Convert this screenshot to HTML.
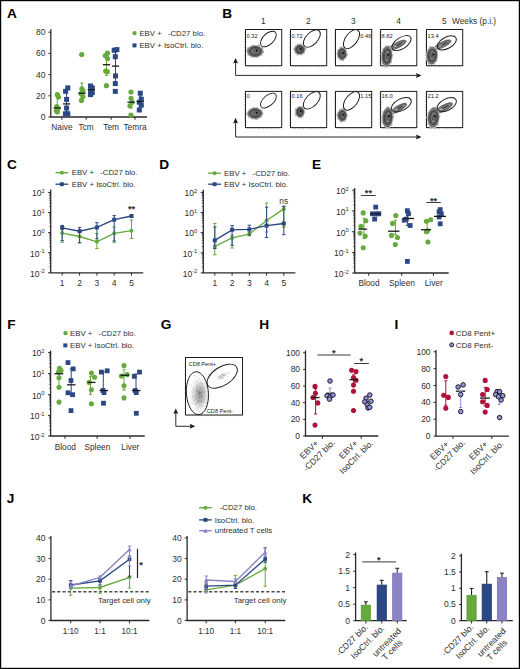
<!DOCTYPE html>
<html><head><meta charset="utf-8"><style>
html,body{margin:0;padding:0;background:#fff;}
svg{display:block;font-family:"Liberation Sans", sans-serif;}
</style></head><body>
<svg width="520" height="669" viewBox="0 0 520 669">
<rect width="520" height="669" fill="#fff"/>
<rect x="0.5" y="0.5" width="519" height="668" fill="none" stroke="#000" stroke-width="1.4"/>
<text transform="translate(7.10 17.60) scale(1.14 1)" font-size="12" font-weight="bold" fill="#000">A</text>
<text transform="translate(222.30 17.80) scale(1.14 1)" font-size="12" font-weight="bold" fill="#000">B</text>
<text transform="translate(7.00 168.70) scale(1.14 1)" font-size="12" font-weight="bold" fill="#000">C</text>
<text transform="translate(159.30 168.90) scale(1.14 1)" font-size="12" font-weight="bold" fill="#000">D</text>
<text transform="translate(312.00 168.80) scale(1.14 1)" font-size="12" font-weight="bold" fill="#000">E</text>
<text transform="translate(7.30 328.60) scale(1.14 1)" font-size="12" font-weight="bold" fill="#000">F</text>
<text transform="translate(160.80 328.60) scale(1.14 1)" font-size="12" font-weight="bold" fill="#000">G</text>
<text transform="translate(259.30 328.60) scale(1.14 1)" font-size="12" font-weight="bold" fill="#000">H</text>
<text transform="translate(394.50 328.60) scale(1.14 1)" font-size="12" font-weight="bold" fill="#000">I</text>
<text transform="translate(6.80 503.00) scale(1.14 1)" font-size="12" font-weight="bold" fill="#000">J</text>
<text transform="translate(302.20 503.00) scale(1.14 1)" font-size="12" font-weight="bold" fill="#000">K</text>
<line x1="50.80" y1="29.20" x2="50.80" y2="117.00" stroke="#2a2a2a" stroke-width="1.3" />
<line x1="48.40" y1="32.20" x2="50.80" y2="32.20" stroke="#2a2a2a" stroke-width="1.0" />
<text x="45.40" y="35.20" font-size="8.5" text-anchor="end" font-weight="normal" fill="#2e2e2e" >80</text>
<line x1="48.40" y1="53.40" x2="50.80" y2="53.40" stroke="#2a2a2a" stroke-width="1.0" />
<text x="45.40" y="56.40" font-size="8.5" text-anchor="end" font-weight="normal" fill="#2e2e2e" >60</text>
<line x1="48.40" y1="74.60" x2="50.80" y2="74.60" stroke="#2a2a2a" stroke-width="1.0" />
<text x="45.40" y="77.60" font-size="8.5" text-anchor="end" font-weight="normal" fill="#2e2e2e" >40</text>
<line x1="48.40" y1="95.80" x2="50.80" y2="95.80" stroke="#2a2a2a" stroke-width="1.0" />
<text x="45.40" y="98.80" font-size="8.5" text-anchor="end" font-weight="normal" fill="#2e2e2e" >20</text>
<line x1="48.40" y1="117.00" x2="50.80" y2="117.00" stroke="#2a2a2a" stroke-width="1.0" />
<text x="45.40" y="120.00" font-size="8.5" text-anchor="end" font-weight="normal" fill="#2e2e2e" >0</text>
<line x1="50.20" y1="117.00" x2="147.00" y2="117.00" stroke="#2a2a2a" stroke-width="1.3" />
<line x1="61.90" y1="117.00" x2="61.90" y2="119.80" stroke="#2a2a2a" stroke-width="1.0" />
<text x="61.90" y="130.40" font-size="8.3" text-anchor="middle" font-weight="normal" fill="#2e2e2e" >Naive</text>
<line x1="86.20" y1="117.00" x2="86.20" y2="119.80" stroke="#2a2a2a" stroke-width="1.0" />
<text x="86.20" y="130.40" font-size="8.3" text-anchor="middle" font-weight="normal" fill="#2e2e2e" >Tcm</text>
<line x1="111.20" y1="117.00" x2="111.20" y2="119.80" stroke="#2a2a2a" stroke-width="1.0" />
<text x="111.20" y="130.40" font-size="8.3" text-anchor="middle" font-weight="normal" fill="#2e2e2e" >Tem</text>
<line x1="135.00" y1="117.00" x2="135.00" y2="119.80" stroke="#2a2a2a" stroke-width="1.0" />
<text x="135.00" y="130.40" font-size="8.3" text-anchor="middle" font-weight="normal" fill="#2e2e2e" >Temra</text>
<line x1="57.30" y1="97.00" x2="57.30" y2="108.00" stroke="#66a93d" stroke-width="1.0" />
<line x1="55.70" y1="97.00" x2="58.90" y2="97.00" stroke="#66a93d" stroke-width="1.0" />
<line x1="55.70" y1="108.00" x2="58.90" y2="108.00" stroke="#66a93d" stroke-width="1.0" />
<line x1="81.90" y1="83.00" x2="81.90" y2="100.00" stroke="#66a93d" stroke-width="1.0" />
<line x1="80.30" y1="83.00" x2="83.50" y2="83.00" stroke="#66a93d" stroke-width="1.0" />
<line x1="80.30" y1="100.00" x2="83.50" y2="100.00" stroke="#66a93d" stroke-width="1.0" />
<line x1="106.50" y1="57.00" x2="106.50" y2="75.30" stroke="#66a93d" stroke-width="1.0" />
<line x1="104.90" y1="57.00" x2="108.10" y2="57.00" stroke="#66a93d" stroke-width="1.0" />
<line x1="104.90" y1="75.30" x2="108.10" y2="75.30" stroke="#66a93d" stroke-width="1.0" />
<line x1="131.00" y1="97.00" x2="131.00" y2="108.00" stroke="#66a93d" stroke-width="1.0" />
<line x1="129.40" y1="97.00" x2="132.60" y2="97.00" stroke="#66a93d" stroke-width="1.0" />
<line x1="129.40" y1="108.00" x2="132.60" y2="108.00" stroke="#66a93d" stroke-width="1.0" />
<line x1="66.60" y1="90.00" x2="66.60" y2="112.00" stroke="#2b4884" stroke-width="1.0" />
<line x1="65.00" y1="90.00" x2="68.20" y2="90.00" stroke="#2b4884" stroke-width="1.0" />
<line x1="65.00" y1="112.00" x2="68.20" y2="112.00" stroke="#2b4884" stroke-width="1.0" />
<line x1="91.30" y1="87.00" x2="91.30" y2="93.00" stroke="#2b4884" stroke-width="1.0" />
<line x1="89.70" y1="87.00" x2="92.90" y2="87.00" stroke="#2b4884" stroke-width="1.0" />
<line x1="89.70" y1="93.00" x2="92.90" y2="93.00" stroke="#2b4884" stroke-width="1.0" />
<line x1="115.50" y1="52.00" x2="115.50" y2="82.00" stroke="#2b4884" stroke-width="1.0" />
<line x1="113.90" y1="52.00" x2="117.10" y2="52.00" stroke="#2b4884" stroke-width="1.0" />
<line x1="113.90" y1="82.00" x2="117.10" y2="82.00" stroke="#2b4884" stroke-width="1.0" />
<line x1="140.30" y1="96.00" x2="140.30" y2="107.00" stroke="#2b4884" stroke-width="1.0" />
<line x1="138.70" y1="96.00" x2="141.90" y2="96.00" stroke="#2b4884" stroke-width="1.0" />
<line x1="138.70" y1="107.00" x2="141.90" y2="107.00" stroke="#2b4884" stroke-width="1.0" />
<circle cx="57.30" cy="94.60" r="2.6" fill="#66a93d" stroke="none" stroke-width="0"/>
<circle cx="58.50" cy="97.00" r="2.6" fill="#66a93d" stroke="none" stroke-width="0"/>
<circle cx="56.80" cy="106.60" r="2.6" fill="#66a93d" stroke="none" stroke-width="0"/>
<circle cx="57.80" cy="108.60" r="2.6" fill="#66a93d" stroke="none" stroke-width="0"/>
<circle cx="56.30" cy="110.50" r="2.6" fill="#66a93d" stroke="none" stroke-width="0"/>
<circle cx="57.30" cy="111.90" r="2.6" fill="#66a93d" stroke="none" stroke-width="0"/>
<circle cx="81.70" cy="54.50" r="2.6" fill="#66a93d" stroke="none" stroke-width="0"/>
<circle cx="81.90" cy="88.80" r="2.6" fill="#66a93d" stroke="none" stroke-width="0"/>
<circle cx="83.00" cy="90.80" r="2.6" fill="#66a93d" stroke="none" stroke-width="0"/>
<circle cx="81.20" cy="93.70" r="2.6" fill="#66a93d" stroke="none" stroke-width="0"/>
<circle cx="82.90" cy="96.50" r="2.6" fill="#66a93d" stroke="none" stroke-width="0"/>
<circle cx="81.50" cy="100.40" r="2.6" fill="#66a93d" stroke="none" stroke-width="0"/>
<circle cx="107.50" cy="53.20" r="2.6" fill="#66a93d" stroke="none" stroke-width="0"/>
<circle cx="105.30" cy="55.50" r="2.6" fill="#66a93d" stroke="none" stroke-width="0"/>
<circle cx="107.50" cy="58.50" r="2.6" fill="#66a93d" stroke="none" stroke-width="0"/>
<circle cx="105.70" cy="71.10" r="2.6" fill="#66a93d" stroke="none" stroke-width="0"/>
<circle cx="107.30" cy="71.70" r="2.6" fill="#66a93d" stroke="none" stroke-width="0"/>
<circle cx="106.40" cy="85.70" r="2.6" fill="#66a93d" stroke="none" stroke-width="0"/>
<circle cx="131.00" cy="92.00" r="2.6" fill="#66a93d" stroke="none" stroke-width="0"/>
<circle cx="131.00" cy="98.30" r="2.6" fill="#66a93d" stroke="none" stroke-width="0"/>
<circle cx="132.00" cy="102.20" r="2.6" fill="#66a93d" stroke="none" stroke-width="0"/>
<circle cx="130.00" cy="105.80" r="2.6" fill="#66a93d" stroke="none" stroke-width="0"/>
<circle cx="131.00" cy="115.10" r="2.6" fill="#66a93d" stroke="none" stroke-width="0"/>
<rect x="65.30" y="85.40" width="5.0" height="5.0" fill="#2b4884"/>
<rect x="63.10" y="88.80" width="5.0" height="5.0" fill="#2b4884"/>
<rect x="64.10" y="96.90" width="5.0" height="5.0" fill="#2b4884"/>
<rect x="64.10" y="105.60" width="5.0" height="5.0" fill="#2b4884"/>
<rect x="62.90" y="111.30" width="5.0" height="5.0" fill="#2b4884"/>
<rect x="65.30" y="111.30" width="5.0" height="5.0" fill="#2b4884"/>
<rect x="88.00" y="83.50" width="5.0" height="5.0" fill="#2b4884"/>
<rect x="89.80" y="85.40" width="5.0" height="5.0" fill="#2b4884"/>
<rect x="88.00" y="88.30" width="5.0" height="5.0" fill="#2b4884"/>
<rect x="89.80" y="90.20" width="5.0" height="5.0" fill="#2b4884"/>
<rect x="88.00" y="92.10" width="5.0" height="5.0" fill="#2b4884"/>
<rect x="111.70" y="47.70" width="5.0" height="5.0" fill="#2b4884"/>
<rect x="114.40" y="47.10" width="5.0" height="5.0" fill="#2b4884"/>
<rect x="112.80" y="54.20" width="5.0" height="5.0" fill="#2b4884"/>
<rect x="113.00" y="73.40" width="5.0" height="5.0" fill="#2b4884"/>
<rect x="112.80" y="81.10" width="5.0" height="5.0" fill="#2b4884"/>
<rect x="112.80" y="88.90" width="5.0" height="5.0" fill="#2b4884"/>
<rect x="137.80" y="90.70" width="5.0" height="5.0" fill="#2b4884"/>
<rect x="138.80" y="96.70" width="5.0" height="5.0" fill="#2b4884"/>
<rect x="136.80" y="99.70" width="5.0" height="5.0" fill="#2b4884"/>
<rect x="138.80" y="102.70" width="5.0" height="5.0" fill="#2b4884"/>
<rect x="136.80" y="107.50" width="5.0" height="5.0" fill="#2b4884"/>
<line x1="53.70" y1="107.90" x2="60.90" y2="107.90" stroke="#1a1a1a" stroke-width="1.3" />
<line x1="78.30" y1="93.20" x2="85.50" y2="93.20" stroke="#1a1a1a" stroke-width="1.3" />
<line x1="102.90" y1="64.70" x2="110.10" y2="64.70" stroke="#1a1a1a" stroke-width="1.3" />
<line x1="127.40" y1="102.20" x2="134.60" y2="102.20" stroke="#1a1a1a" stroke-width="1.3" />
<line x1="63.00" y1="103.90" x2="70.20" y2="103.90" stroke="#1a1a1a" stroke-width="1.3" />
<line x1="87.70" y1="89.60" x2="94.90" y2="89.60" stroke="#1a1a1a" stroke-width="1.3" />
<line x1="111.90" y1="66.10" x2="119.10" y2="66.10" stroke="#1a1a1a" stroke-width="1.3" />
<line x1="136.70" y1="101.60" x2="143.90" y2="101.60" stroke="#1a1a1a" stroke-width="1.3" />
<circle cx="134.50" cy="33.10" r="2.2" fill="#66a93d" stroke="none" stroke-width="0"/>
<rect x="132.50" y="43.40" width="4.0" height="4.0" fill="#2b4884"/>
<text x="139.40" y="35.50" font-size="7.8" text-anchor="start" font-weight="normal" fill="#2e2e2e" >EBV +</text>
<text x="167.90" y="35.50" font-size="7.8" text-anchor="start" font-weight="normal" fill="#2e2e2e" >-CD27 blo.</text>
<text x="139.40" y="47.50" font-size="7.8" text-anchor="start" font-weight="normal" fill="#2e2e2e" >EBV + IsoCtrl. blo.</text>
<text x="263.40" y="23.90" font-size="8.3" text-anchor="middle" font-weight="normal" fill="#2e2e2e" >1</text>
<text x="308.40" y="23.90" font-size="8.3" text-anchor="middle" font-weight="normal" fill="#2e2e2e" >2</text>
<text x="353.40" y="23.90" font-size="8.3" text-anchor="middle" font-weight="normal" fill="#2e2e2e" >3</text>
<text x="398.50" y="23.90" font-size="8.3" text-anchor="middle" font-weight="normal" fill="#2e2e2e" >4</text>
<text x="444.40" y="23.90" font-size="8.3" text-anchor="middle" font-weight="normal" fill="#2e2e2e" >5</text>
<text x="452.00" y="23.90" font-size="8.3" text-anchor="start" font-weight="normal" fill="#2e2e2e" >Weeks (p.i.)</text>
<rect x="245.50" y="29.50" width="36.2" height="36.2" fill="none" stroke="#1e1e1e" stroke-width="1.0"/>
<path d="M244.40 32.09H245.50M248.09 65.70V66.80M244.40 34.67H245.50M250.67 65.70V66.80M244.40 37.26H245.50M253.26 65.70V66.80M244.40 39.84H245.50M255.84 65.70V66.80M244.40 42.43H245.50M258.43 65.70V66.80M244.40 45.01H245.50M261.01 65.70V66.80M244.40 47.60H245.50M263.60 65.70V66.80M244.40 50.19H245.50M266.19 65.70V66.80M244.40 52.77H245.50M268.77 65.70V66.80M244.40 55.36H245.50M271.36 65.70V66.80M244.40 57.94H245.50M273.94 65.70V66.80M244.40 60.53H245.50M276.53 65.70V66.80M244.40 63.11H245.50M279.11 65.70V66.80" stroke="#444" stroke-width="0.6" fill="none"/>
<g transform="translate(255.00 51.30) rotate(0)">
<ellipse cx="0" cy="0" rx="8.50" ry="6.40" fill="#bcbcbc"/>
<circle cx="8.02" cy="0.82" r="1.25" fill="#b4b4b4"/>
<circle cx="6.70" cy="3.37" r="0.96" fill="#b4b4b4"/>
<circle cx="2.47" cy="5.71" r="1.04" fill="#b4b4b4"/>
<circle cx="-3.36" cy="5.46" r="0.98" fill="#b4b4b4"/>
<circle cx="-6.51" cy="3.57" r="1.15" fill="#b4b4b4"/>
<circle cx="-7.99" cy="-0.98" r="1.10" fill="#b4b4b4"/>
<circle cx="-6.94" cy="-3.09" r="1.25" fill="#b4b4b4"/>
<circle cx="-2.14" cy="-5.79" r="0.95" fill="#b4b4b4"/>
<circle cx="3.73" cy="-5.33" r="1.39" fill="#b4b4b4"/>
<circle cx="7.09" cy="-2.90" r="1.34" fill="#b4b4b4"/>
<ellipse cx="0" cy="0" rx="7.20" ry="5.20" fill="#868686" stroke="#3a3a3a" stroke-width="0.6"/>
<ellipse cx="0.2" cy="0" rx="5.62" ry="4.06" fill="#5c5c5c" stroke="#222" stroke-width="0.6"/>
<ellipse cx="0.3" cy="-0.1" rx="4.18" ry="3.02" fill="#8c8c8c" stroke="#333" stroke-width="0.5"/>
<ellipse cx="0.5" cy="-0.2" rx="2.45" ry="1.77" fill="#6a6a6a" stroke="#333" stroke-width="0.5"/>
<circle cx="1.80" cy="-0.78" r="0.95" fill="#0a0a0a"/>
</g>
<ellipse cx="268.40" cy="39.00" rx="9.7" ry="5.4" transform="rotate(-44 268.40 39.00)" fill="none" stroke="#1e1e1e" stroke-width="0.95"/>
<text x="246.50" y="38.10" font-size="5.7" text-anchor="start" font-weight="normal" fill="#222" >0.32</text>
<rect x="290.50" y="29.50" width="36.2" height="36.2" fill="none" stroke="#1e1e1e" stroke-width="1.0"/>
<path d="M289.40 32.09H290.50M293.09 65.70V66.80M289.40 34.67H290.50M295.67 65.70V66.80M289.40 37.26H290.50M298.26 65.70V66.80M289.40 39.84H290.50M300.84 65.70V66.80M289.40 42.43H290.50M303.43 65.70V66.80M289.40 45.01H290.50M306.01 65.70V66.80M289.40 47.60H290.50M308.60 65.70V66.80M289.40 50.19H290.50M311.19 65.70V66.80M289.40 52.77H290.50M313.77 65.70V66.80M289.40 55.36H290.50M316.36 65.70V66.80M289.40 57.94H290.50M318.94 65.70V66.80M289.40 60.53H290.50M321.53 65.70V66.80M289.40 63.11H290.50M324.11 65.70V66.80" stroke="#444" stroke-width="0.6" fill="none"/>
<g transform="translate(299.70 49.60) rotate(0)">
<ellipse cx="0" cy="0" rx="5.90" ry="5.50" fill="#bcbcbc"/>
<circle cx="5.44" cy="-0.74" r="1.31" fill="#b4b4b4"/>
<circle cx="4.08" cy="3.42" r="0.95" fill="#b4b4b4"/>
<circle cx="1.71" cy="4.85" r="1.07" fill="#b4b4b4"/>
<circle cx="-2.01" cy="4.75" r="1.27" fill="#b4b4b4"/>
<circle cx="-3.87" cy="3.63" r="0.82" fill="#b4b4b4"/>
<circle cx="-5.45" cy="-0.68" r="1.06" fill="#b4b4b4"/>
<circle cx="-4.09" cy="-3.41" r="0.80" fill="#b4b4b4"/>
<circle cx="-1.81" cy="-4.81" r="1.23" fill="#b4b4b4"/>
<circle cx="1.12" cy="-4.99" r="1.37" fill="#b4b4b4"/>
<circle cx="4.91" cy="-2.30" r="0.82" fill="#b4b4b4"/>
<ellipse cx="0" cy="0" rx="4.60" ry="4.30" fill="#868686" stroke="#3a3a3a" stroke-width="0.6"/>
<ellipse cx="0.2" cy="0" rx="3.59" ry="3.35" fill="#5c5c5c" stroke="#222" stroke-width="0.6"/>
<ellipse cx="0.3" cy="-0.1" rx="2.67" ry="2.49" fill="#8c8c8c" stroke="#333" stroke-width="0.5"/>
<ellipse cx="0.5" cy="-0.2" rx="1.56" ry="1.46" fill="#6a6a6a" stroke="#333" stroke-width="0.5"/>
<circle cx="1.15" cy="-0.64" r="0.95" fill="#0a0a0a"/>
</g>
<ellipse cx="311.85" cy="38.55" rx="10.6" ry="5.9" transform="rotate(-46.6 311.85 38.55)" fill="none" stroke="#1e1e1e" stroke-width="0.95"/>
<text x="291.50" y="38.10" font-size="5.7" text-anchor="start" font-weight="normal" fill="#222" >0.72</text>
<rect x="335.50" y="29.50" width="36.2" height="36.2" fill="none" stroke="#1e1e1e" stroke-width="1.0"/>
<path d="M334.40 32.09H335.50M338.09 65.70V66.80M334.40 34.67H335.50M340.67 65.70V66.80M334.40 37.26H335.50M343.26 65.70V66.80M334.40 39.84H335.50M345.84 65.70V66.80M334.40 42.43H335.50M348.43 65.70V66.80M334.40 45.01H335.50M351.01 65.70V66.80M334.40 47.60H335.50M353.60 65.70V66.80M334.40 50.19H335.50M356.19 65.70V66.80M334.40 52.77H335.50M358.77 65.70V66.80M334.40 55.36H335.50M361.36 65.70V66.80M334.40 57.94H335.50M363.94 65.70V66.80M334.40 60.53H335.50M366.53 65.70V66.80M334.40 63.11H335.50M369.11 65.70V66.80" stroke="#444" stroke-width="0.6" fill="none"/>
<g transform="translate(342.00 53.80) rotate(0)">
<ellipse cx="0" cy="0" rx="5.20" ry="6.80" fill="#bcbcbc"/>
<circle cx="4.72" cy="1.16" r="1.37" fill="#b4b4b4"/>
<circle cx="4.32" cy="2.79" r="0.85" fill="#b4b4b4"/>
<circle cx="0.86" cy="6.30" r="1.24" fill="#b4b4b4"/>
<circle cx="-1.79" cy="5.94" r="0.98" fill="#b4b4b4"/>
<circle cx="-4.00" cy="3.54" r="1.16" fill="#b4b4b4"/>
<circle cx="-4.80" cy="-0.21" r="0.90" fill="#b4b4b4"/>
<circle cx="-3.96" cy="-3.62" r="1.04" fill="#b4b4b4"/>
<circle cx="-1.07" cy="-6.24" r="1.40" fill="#b4b4b4"/>
<circle cx="2.28" cy="-5.64" r="1.13" fill="#b4b4b4"/>
<circle cx="3.82" cy="-3.88" r="0.96" fill="#b4b4b4"/>
<ellipse cx="0" cy="0" rx="3.90" ry="5.60" fill="#868686" stroke="#3a3a3a" stroke-width="0.6"/>
<ellipse cx="0.2" cy="0" rx="3.04" ry="4.37" fill="#5c5c5c" stroke="#222" stroke-width="0.6"/>
<ellipse cx="0.3" cy="-0.1" rx="2.26" ry="3.25" fill="#8c8c8c" stroke="#333" stroke-width="0.5"/>
<ellipse cx="0.5" cy="-0.2" rx="1.33" ry="1.90" fill="#6a6a6a" stroke="#333" stroke-width="0.5"/>
<circle cx="0.97" cy="-0.84" r="0.95" fill="#0a0a0a"/>
</g>
<ellipse cx="351.50" cy="39.10" rx="11.0" ry="5.9" transform="rotate(-53.5 351.50 39.10)" fill="none" stroke="#1e1e1e" stroke-width="0.95"/>
<text x="371.40" y="38.10" font-size="5.7" text-anchor="end" font-weight="normal" fill="#222" >0.46</text>
<rect x="380.60" y="29.50" width="36.2" height="36.2" fill="none" stroke="#1e1e1e" stroke-width="1.0"/>
<path d="M379.50 32.09H380.60M383.19 65.70V66.80M379.50 34.67H380.60M385.77 65.70V66.80M379.50 37.26H380.60M388.36 65.70V66.80M379.50 39.84H380.60M390.94 65.70V66.80M379.50 42.43H380.60M393.53 65.70V66.80M379.50 45.01H380.60M396.11 65.70V66.80M379.50 47.60H380.60M398.70 65.70V66.80M379.50 50.19H380.60M401.29 65.70V66.80M379.50 52.77H380.60M403.87 65.70V66.80M379.50 55.36H380.60M406.46 65.70V66.80M379.50 57.94H380.60M409.04 65.70V66.80M379.50 60.53H380.60M411.63 65.70V66.80M379.50 63.11H380.60M414.21 65.70V66.80" stroke="#444" stroke-width="0.6" fill="none"/>
<g transform="translate(397.80 45.00) rotate(-27)">
<ellipse cx="0" cy="0" rx="10.00" ry="3.50" fill="#cfcfcf"/>
<ellipse cx="0" cy="0" rx="9.00" ry="2.60" fill="#9a9a9a" stroke="#333" stroke-width="0.55"/>
<ellipse cx="1.35" cy="0" rx="6.12" ry="1.61" fill="#bdbdbd" stroke="#222" stroke-width="0.55"/>
<ellipse cx="1.80" cy="0" rx="3.78" ry="0.78" fill="#3a3a3a"/>
</g>
<g transform="translate(386.80 56.20) rotate(4)">
<ellipse cx="0" cy="0" rx="5.90" ry="10.80" fill="#bcbcbc"/>
<circle cx="5.47" cy="-1.09" r="1.13" fill="#b4b4b4"/>
<circle cx="4.61" cy="5.67" r="1.16" fill="#b4b4b4"/>
<circle cx="1.43" cy="10.04" r="0.84" fill="#b4b4b4"/>
<circle cx="-0.66" cy="10.33" r="1.30" fill="#b4b4b4"/>
<circle cx="-4.12" cy="6.89" r="0.94" fill="#b4b4b4"/>
<circle cx="-5.39" cy="-2.05" r="1.08" fill="#b4b4b4"/>
<circle cx="-3.98" cy="-7.19" r="1.09" fill="#b4b4b4"/>
<circle cx="-1.41" cy="-10.05" r="0.89" fill="#b4b4b4"/>
<circle cx="1.98" cy="-9.70" r="1.32" fill="#b4b4b4"/>
<circle cx="4.48" cy="-6.03" r="1.24" fill="#b4b4b4"/>
<ellipse cx="0" cy="0" rx="4.60" ry="9.60" fill="#868686" stroke="#3a3a3a" stroke-width="0.6"/>
<ellipse cx="0.2" cy="0" rx="3.59" ry="7.49" fill="#5c5c5c" stroke="#222" stroke-width="0.6"/>
<ellipse cx="0.3" cy="-0.1" rx="2.67" ry="5.57" fill="#8c8c8c" stroke="#333" stroke-width="0.5"/>
<ellipse cx="0.5" cy="-0.2" rx="1.56" ry="3.26" fill="#6a6a6a" stroke="#333" stroke-width="0.5"/>
<circle cx="1.15" cy="-1.44" r="0.95" fill="#0a0a0a"/>
</g>
<ellipse cx="401.50" cy="43.10" rx="10.8" ry="5.6" transform="rotate(-33 401.50 43.10)" fill="none" stroke="#1e1e1e" stroke-width="0.95"/>
<text x="381.60" y="38.10" font-size="5.7" text-anchor="start" font-weight="normal" fill="#222" >8.82</text>
<rect x="426.50" y="29.50" width="36.2" height="36.2" fill="none" stroke="#1e1e1e" stroke-width="1.0"/>
<path d="M425.40 32.09H426.50M429.09 65.70V66.80M425.40 34.67H426.50M431.67 65.70V66.80M425.40 37.26H426.50M434.26 65.70V66.80M425.40 39.84H426.50M436.84 65.70V66.80M425.40 42.43H426.50M439.43 65.70V66.80M425.40 45.01H426.50M442.01 65.70V66.80M425.40 47.60H426.50M444.60 65.70V66.80M425.40 50.19H426.50M447.19 65.70V66.80M425.40 52.77H426.50M449.77 65.70V66.80M425.40 55.36H426.50M452.36 65.70V66.80M425.40 57.94H426.50M454.94 65.70V66.80M425.40 60.53H426.50M457.53 65.70V66.80M425.40 63.11H426.50M460.11 65.70V66.80" stroke="#444" stroke-width="0.6" fill="none"/>
<g transform="translate(442.60 44.60) rotate(-26)">
<ellipse cx="0" cy="0" rx="10.00" ry="3.40" fill="#cfcfcf"/>
<ellipse cx="0" cy="0" rx="9.00" ry="2.50" fill="#9a9a9a" stroke="#333" stroke-width="0.55"/>
<ellipse cx="1.35" cy="0" rx="6.12" ry="1.55" fill="#bdbdbd" stroke="#222" stroke-width="0.55"/>
<ellipse cx="1.80" cy="0" rx="3.78" ry="0.75" fill="#3a3a3a"/>
</g>
<g transform="translate(432.00 55.60) rotate(4)">
<ellipse cx="0" cy="0" rx="6.10" ry="9.40" fill="#bcbcbc"/>
<circle cx="5.67" cy="-0.95" r="0.86" fill="#b4b4b4"/>
<circle cx="4.75" cy="4.98" r="0.89" fill="#b4b4b4"/>
<circle cx="2.67" cy="7.95" r="1.04" fill="#b4b4b4"/>
<circle cx="-2.64" cy="7.98" r="1.28" fill="#b4b4b4"/>
<circle cx="-4.94" cy="4.49" r="0.93" fill="#b4b4b4"/>
<circle cx="-5.70" cy="-0.13" r="0.97" fill="#b4b4b4"/>
<circle cx="-5.01" cy="-4.29" r="0.86" fill="#b4b4b4"/>
<circle cx="-2.37" cy="-8.19" r="1.36" fill="#b4b4b4"/>
<circle cx="2.46" cy="-8.12" r="1.28" fill="#b4b4b4"/>
<circle cx="4.98" cy="-4.38" r="0.92" fill="#b4b4b4"/>
<ellipse cx="0" cy="0" rx="4.80" ry="8.20" fill="#868686" stroke="#3a3a3a" stroke-width="0.6"/>
<ellipse cx="0.2" cy="0" rx="3.74" ry="6.40" fill="#5c5c5c" stroke="#222" stroke-width="0.6"/>
<ellipse cx="0.3" cy="-0.1" rx="2.78" ry="4.76" fill="#8c8c8c" stroke="#333" stroke-width="0.5"/>
<ellipse cx="0.5" cy="-0.2" rx="1.63" ry="2.79" fill="#6a6a6a" stroke="#333" stroke-width="0.5"/>
<circle cx="1.20" cy="-1.23" r="0.95" fill="#0a0a0a"/>
</g>
<ellipse cx="446.80" cy="42.90" rx="10.5" ry="5.6" transform="rotate(-29.5 446.80 42.90)" fill="none" stroke="#1e1e1e" stroke-width="0.95"/>
<text x="427.50" y="38.10" font-size="5.7" text-anchor="start" font-weight="normal" fill="#222" >13.4</text>
<rect x="245.50" y="91.40" width="36.2" height="36.2" fill="none" stroke="#1e1e1e" stroke-width="1.0"/>
<path d="M244.40 93.99H245.50M248.09 127.60V128.70M244.40 96.57H245.50M250.67 127.60V128.70M244.40 99.16H245.50M253.26 127.60V128.70M244.40 101.74H245.50M255.84 127.60V128.70M244.40 104.33H245.50M258.43 127.60V128.70M244.40 106.91H245.50M261.01 127.60V128.70M244.40 109.50H245.50M263.60 127.60V128.70M244.40 112.09H245.50M266.19 127.60V128.70M244.40 114.67H245.50M268.77 127.60V128.70M244.40 117.26H245.50M271.36 127.60V128.70M244.40 119.84H245.50M273.94 127.60V128.70M244.40 122.43H245.50M276.53 127.60V128.70M244.40 125.01H245.50M279.11 127.60V128.70" stroke="#444" stroke-width="0.6" fill="none"/>
<g transform="translate(255.00 113.40) rotate(0)">
<ellipse cx="0" cy="0" rx="8.10" ry="6.00" fill="#bcbcbc"/>
<circle cx="7.70" cy="0.16" r="1.06" fill="#b4b4b4"/>
<circle cx="6.09" cy="3.43" r="0.92" fill="#b4b4b4"/>
<circle cx="1.45" cy="5.50" r="1.29" fill="#b4b4b4"/>
<circle cx="-2.82" cy="5.21" r="0.90" fill="#b4b4b4"/>
<circle cx="-6.27" cy="3.25" r="1.00" fill="#b4b4b4"/>
<circle cx="-7.66" cy="0.56" r="1.37" fill="#b4b4b4"/>
<circle cx="-5.21" cy="-4.12" r="0.83" fill="#b4b4b4"/>
<circle cx="-1.30" cy="-5.52" r="1.16" fill="#b4b4b4"/>
<circle cx="2.03" cy="-5.40" r="0.97" fill="#b4b4b4"/>
<circle cx="6.53" cy="-2.97" r="1.07" fill="#b4b4b4"/>
<ellipse cx="0" cy="0" rx="6.80" ry="4.80" fill="#868686" stroke="#3a3a3a" stroke-width="0.6"/>
<ellipse cx="0.2" cy="0" rx="5.30" ry="3.74" fill="#5c5c5c" stroke="#222" stroke-width="0.6"/>
<ellipse cx="0.3" cy="-0.1" rx="3.94" ry="2.78" fill="#8c8c8c" stroke="#333" stroke-width="0.5"/>
<ellipse cx="0.5" cy="-0.2" rx="2.31" ry="1.63" fill="#6a6a6a" stroke="#333" stroke-width="0.5"/>
<circle cx="1.70" cy="-0.72" r="0.95" fill="#0a0a0a"/>
</g>
<ellipse cx="268.40" cy="100.60" rx="9.6" ry="5.15" transform="rotate(-41.7 268.40 100.60)" fill="none" stroke="#1e1e1e" stroke-width="0.95"/>
<text x="246.50" y="98.00" font-size="5.7" text-anchor="start" font-weight="normal" fill="#222" >0</text>
<rect x="290.50" y="91.40" width="36.2" height="36.2" fill="none" stroke="#1e1e1e" stroke-width="1.0"/>
<path d="M289.40 93.99H290.50M293.09 127.60V128.70M289.40 96.57H290.50M295.67 127.60V128.70M289.40 99.16H290.50M298.26 127.60V128.70M289.40 101.74H290.50M300.84 127.60V128.70M289.40 104.33H290.50M303.43 127.60V128.70M289.40 106.91H290.50M306.01 127.60V128.70M289.40 109.50H290.50M308.60 127.60V128.70M289.40 112.09H290.50M311.19 127.60V128.70M289.40 114.67H290.50M313.77 127.60V128.70M289.40 117.26H290.50M316.36 127.60V128.70M289.40 119.84H290.50M318.94 127.60V128.70M289.40 122.43H290.50M321.53 127.60V128.70M289.40 125.01H290.50M324.11 127.60V128.70" stroke="#444" stroke-width="0.6" fill="none"/>
<g transform="translate(299.90 112.00) rotate(0)">
<ellipse cx="0" cy="0" rx="4.90" ry="5.80" fill="#bcbcbc"/>
<circle cx="4.50" cy="-0.10" r="1.14" fill="#b4b4b4"/>
<circle cx="3.14" cy="3.87" r="1.08" fill="#b4b4b4"/>
<circle cx="1.38" cy="5.14" r="1.15" fill="#b4b4b4"/>
<circle cx="-0.84" cy="5.30" r="1.11" fill="#b4b4b4"/>
<circle cx="-3.77" cy="2.94" r="1.28" fill="#b4b4b4"/>
<circle cx="-4.44" cy="0.87" r="0.98" fill="#b4b4b4"/>
<circle cx="-4.02" cy="-2.42" r="1.29" fill="#b4b4b4"/>
<circle cx="-1.06" cy="-5.25" r="0.83" fill="#b4b4b4"/>
<circle cx="2.19" cy="-4.72" r="1.38" fill="#b4b4b4"/>
<circle cx="3.80" cy="-2.90" r="1.17" fill="#b4b4b4"/>
<ellipse cx="0" cy="0" rx="3.60" ry="4.60" fill="#868686" stroke="#3a3a3a" stroke-width="0.6"/>
<ellipse cx="0.2" cy="0" rx="2.81" ry="3.59" fill="#5c5c5c" stroke="#222" stroke-width="0.6"/>
<ellipse cx="0.3" cy="-0.1" rx="2.09" ry="2.67" fill="#8c8c8c" stroke="#333" stroke-width="0.5"/>
<ellipse cx="0.5" cy="-0.2" rx="1.22" ry="1.56" fill="#6a6a6a" stroke="#333" stroke-width="0.5"/>
<circle cx="0.90" cy="-0.69" r="0.95" fill="#0a0a0a"/>
</g>
<ellipse cx="311.80" cy="100.35" rx="10.6" ry="5.9" transform="rotate(-46.6 311.80 100.35)" fill="none" stroke="#1e1e1e" stroke-width="0.95"/>
<text x="291.50" y="98.00" font-size="5.7" text-anchor="start" font-weight="normal" fill="#222" >0.16</text>
<rect x="335.50" y="91.40" width="36.2" height="36.2" fill="none" stroke="#1e1e1e" stroke-width="1.0"/>
<path d="M334.40 93.99H335.50M338.09 127.60V128.70M334.40 96.57H335.50M340.67 127.60V128.70M334.40 99.16H335.50M343.26 127.60V128.70M334.40 101.74H335.50M345.84 127.60V128.70M334.40 104.33H335.50M348.43 127.60V128.70M334.40 106.91H335.50M351.01 127.60V128.70M334.40 109.50H335.50M353.60 127.60V128.70M334.40 112.09H335.50M356.19 127.60V128.70M334.40 114.67H335.50M358.77 127.60V128.70M334.40 117.26H335.50M361.36 127.60V128.70M334.40 119.84H335.50M363.94 127.60V128.70M334.40 122.43H335.50M366.53 127.60V128.70M334.40 125.01H335.50M369.11 127.60V128.70" stroke="#444" stroke-width="0.6" fill="none"/>
<g transform="translate(342.20 115.40) rotate(0)">
<ellipse cx="0" cy="0" rx="5.20" ry="6.50" fill="#bcbcbc"/>
<circle cx="4.80" cy="-0.06" r="1.19" fill="#b4b4b4"/>
<circle cx="3.69" cy="3.91" r="0.89" fill="#b4b4b4"/>
<circle cx="2.34" cy="5.32" r="1.02" fill="#b4b4b4"/>
<circle cx="-1.07" cy="5.95" r="1.29" fill="#b4b4b4"/>
<circle cx="-4.09" cy="3.20" r="1.16" fill="#b4b4b4"/>
<circle cx="-4.80" cy="-0.14" r="1.20" fill="#b4b4b4"/>
<circle cx="-4.24" cy="-2.85" r="1.06" fill="#b4b4b4"/>
<circle cx="-2.08" cy="-5.49" r="1.34" fill="#b4b4b4"/>
<circle cx="0.66" cy="-6.04" r="1.29" fill="#b4b4b4"/>
<circle cx="3.35" cy="-4.37" r="1.21" fill="#b4b4b4"/>
<ellipse cx="0" cy="0" rx="3.90" ry="5.30" fill="#868686" stroke="#3a3a3a" stroke-width="0.6"/>
<ellipse cx="0.2" cy="0" rx="3.04" ry="4.13" fill="#5c5c5c" stroke="#222" stroke-width="0.6"/>
<ellipse cx="0.3" cy="-0.1" rx="2.26" ry="3.07" fill="#8c8c8c" stroke="#333" stroke-width="0.5"/>
<ellipse cx="0.5" cy="-0.2" rx="1.33" ry="1.80" fill="#6a6a6a" stroke="#333" stroke-width="0.5"/>
<circle cx="0.97" cy="-0.79" r="0.95" fill="#0a0a0a"/>
</g>
<ellipse cx="351.50" cy="100.90" rx="10.8" ry="5.9" transform="rotate(-52 351.50 100.90)" fill="none" stroke="#1e1e1e" stroke-width="0.95"/>
<text x="371.40" y="98.00" font-size="5.7" text-anchor="end" font-weight="normal" fill="#222" >1.15</text>
<rect x="380.60" y="91.40" width="36.2" height="36.2" fill="none" stroke="#1e1e1e" stroke-width="1.0"/>
<path d="M379.50 93.99H380.60M383.19 127.60V128.70M379.50 96.57H380.60M385.77 127.60V128.70M379.50 99.16H380.60M388.36 127.60V128.70M379.50 101.74H380.60M390.94 127.60V128.70M379.50 104.33H380.60M393.53 127.60V128.70M379.50 106.91H380.60M396.11 127.60V128.70M379.50 109.50H380.60M398.70 127.60V128.70M379.50 112.09H380.60M401.29 127.60V128.70M379.50 114.67H380.60M403.87 127.60V128.70M379.50 117.26H380.60M406.46 127.60V128.70M379.50 119.84H380.60M409.04 127.60V128.70M379.50 122.43H380.60M411.63 127.60V128.70M379.50 125.01H380.60M414.21 127.60V128.70" stroke="#444" stroke-width="0.6" fill="none"/>
<g transform="translate(398.60 108.40) rotate(-30)">
<ellipse cx="0" cy="0" rx="10.00" ry="3.50" fill="#cfcfcf"/>
<ellipse cx="0" cy="0" rx="9.00" ry="2.60" fill="#9a9a9a" stroke="#333" stroke-width="0.55"/>
<ellipse cx="1.35" cy="0" rx="6.12" ry="1.61" fill="#bdbdbd" stroke="#222" stroke-width="0.55"/>
<ellipse cx="1.80" cy="0" rx="3.78" ry="0.78" fill="#3a3a3a"/>
</g>
<g transform="translate(387.60 117.60) rotate(4)">
<ellipse cx="0" cy="0" rx="5.90" ry="10.60" fill="#bcbcbc"/>
<circle cx="5.47" cy="-0.98" r="1.21" fill="#b4b4b4"/>
<circle cx="4.20" cy="6.59" r="1.31" fill="#b4b4b4"/>
<circle cx="2.34" cy="9.23" r="0.94" fill="#b4b4b4"/>
<circle cx="-0.95" cy="10.05" r="0.94" fill="#b4b4b4"/>
<circle cx="-4.73" cy="5.20" r="0.88" fill="#b4b4b4"/>
<circle cx="-5.50" cy="-0.13" r="0.93" fill="#b4b4b4"/>
<circle cx="-4.70" cy="-5.30" r="1.06" fill="#b4b4b4"/>
<circle cx="-0.98" cy="-10.04" r="1.17" fill="#b4b4b4"/>
<circle cx="0.66" cy="-10.13" r="0.97" fill="#b4b4b4"/>
<circle cx="3.95" cy="-7.10" r="1.32" fill="#b4b4b4"/>
<ellipse cx="0" cy="0" rx="4.60" ry="9.40" fill="#868686" stroke="#3a3a3a" stroke-width="0.6"/>
<ellipse cx="0.2" cy="0" rx="3.59" ry="7.33" fill="#5c5c5c" stroke="#222" stroke-width="0.6"/>
<ellipse cx="0.3" cy="-0.1" rx="2.67" ry="5.45" fill="#8c8c8c" stroke="#333" stroke-width="0.5"/>
<ellipse cx="0.5" cy="-0.2" rx="1.56" ry="3.20" fill="#6a6a6a" stroke="#333" stroke-width="0.5"/>
<circle cx="1.15" cy="-1.41" r="0.95" fill="#0a0a0a"/>
</g>
<ellipse cx="401.30" cy="104.80" rx="10.85" ry="5.8" transform="rotate(-28 401.30 104.80)" fill="none" stroke="#1e1e1e" stroke-width="0.95"/>
<text x="381.60" y="98.00" font-size="5.7" text-anchor="start" font-weight="normal" fill="#222" >16.0</text>
<rect x="426.50" y="91.40" width="36.2" height="36.2" fill="none" stroke="#1e1e1e" stroke-width="1.0"/>
<path d="M425.40 93.99H426.50M429.09 127.60V128.70M425.40 96.57H426.50M431.67 127.60V128.70M425.40 99.16H426.50M434.26 127.60V128.70M425.40 101.74H426.50M436.84 127.60V128.70M425.40 104.33H426.50M439.43 127.60V128.70M425.40 106.91H426.50M442.01 127.60V128.70M425.40 109.50H426.50M444.60 127.60V128.70M425.40 112.09H426.50M447.19 127.60V128.70M425.40 114.67H426.50M449.77 127.60V128.70M425.40 117.26H426.50M452.36 127.60V128.70M425.40 119.84H426.50M454.94 127.60V128.70M425.40 122.43H426.50M457.53 127.60V128.70M425.40 125.01H426.50M460.11 127.60V128.70" stroke="#444" stroke-width="0.6" fill="none"/>
<g transform="translate(443.80 108.00) rotate(-28)">
<ellipse cx="0" cy="0" rx="10.60" ry="3.70" fill="#cfcfcf"/>
<ellipse cx="0" cy="0" rx="9.60" ry="2.80" fill="#9a9a9a" stroke="#333" stroke-width="0.55"/>
<ellipse cx="1.44" cy="0" rx="6.53" ry="1.74" fill="#bdbdbd" stroke="#222" stroke-width="0.55"/>
<ellipse cx="1.92" cy="0" rx="4.03" ry="0.84" fill="#3a3a3a"/>
</g>
<g transform="translate(433.40 117.60) rotate(4)">
<ellipse cx="0" cy="0" rx="6.30" ry="10.60" fill="#bcbcbc"/>
<circle cx="5.83" cy="-1.60" r="1.22" fill="#b4b4b4"/>
<circle cx="4.55" cy="6.49" r="1.36" fill="#b4b4b4"/>
<circle cx="2.33" cy="9.37" r="0.95" fill="#b4b4b4"/>
<circle cx="-2.34" cy="9.36" r="1.20" fill="#b4b4b4"/>
<circle cx="-4.49" cy="6.63" r="1.21" fill="#b4b4b4"/>
<circle cx="-5.89" cy="0.42" r="1.27" fill="#b4b4b4"/>
<circle cx="-5.24" cy="-4.67" r="0.93" fill="#b4b4b4"/>
<circle cx="-0.90" cy="-10.08" r="1.01" fill="#b4b4b4"/>
<circle cx="1.28" cy="-9.96" r="1.28" fill="#b4b4b4"/>
<circle cx="4.95" cy="-5.55" r="0.89" fill="#b4b4b4"/>
<ellipse cx="0" cy="0" rx="5.00" ry="9.40" fill="#868686" stroke="#3a3a3a" stroke-width="0.6"/>
<ellipse cx="0.2" cy="0" rx="3.90" ry="7.33" fill="#5c5c5c" stroke="#222" stroke-width="0.6"/>
<ellipse cx="0.3" cy="-0.1" rx="2.90" ry="5.45" fill="#8c8c8c" stroke="#333" stroke-width="0.5"/>
<ellipse cx="0.5" cy="-0.2" rx="1.70" ry="3.20" fill="#6a6a6a" stroke="#333" stroke-width="0.5"/>
<circle cx="1.25" cy="-1.41" r="0.95" fill="#0a0a0a"/>
</g>
<ellipse cx="446.75" cy="104.65" rx="10.55" ry="5.76" transform="rotate(-28 446.75 104.65)" fill="none" stroke="#1e1e1e" stroke-width="0.95"/>
<text x="427.50" y="98.00" font-size="5.7" text-anchor="start" font-weight="normal" fill="#222" >21.2</text>
<line x1="235.60" y1="75.40" x2="235.60" y2="60.50" stroke="#222" stroke-width="0.95" />
<path d="M233.10 63.60 L235.60 58.00 L238.10 63.60 L235.60 62.60 Z" fill="#1a1a1a"/>
<line x1="235.60" y1="75.40" x2="419.00" y2="75.40" stroke="#222" stroke-width="0.95" />
<path d="M415.90 72.90 L421.50 75.40 L415.90 77.90 L416.90 75.40 Z" fill="#1a1a1a"/>
<line x1="235.60" y1="137.00" x2="235.60" y2="120.30" stroke="#222" stroke-width="0.95" />
<path d="M233.10 123.40 L235.60 117.80 L238.10 123.40 L235.60 122.40 Z" fill="#1a1a1a"/>
<line x1="235.60" y1="137.00" x2="419.00" y2="137.00" stroke="#222" stroke-width="0.95" />
<path d="M415.90 134.50 L421.50 137.00 L415.90 139.50 L416.90 137.00 Z" fill="#1a1a1a"/>
<line x1="50.70" y1="189.60" x2="50.70" y2="272.80" stroke="#2a2a2a" stroke-width="1.3" />
<line x1="48.10" y1="192.40" x2="50.70" y2="192.40" stroke="#2a2a2a" stroke-width="1.0" />
<line x1="49.20" y1="206.45" x2="50.70" y2="206.45" stroke="#2a2a2a" stroke-width="0.7" />
<line x1="49.20" y1="202.91" x2="50.70" y2="202.91" stroke="#2a2a2a" stroke-width="0.7" />
<line x1="49.20" y1="200.40" x2="50.70" y2="200.40" stroke="#2a2a2a" stroke-width="0.7" />
<line x1="49.20" y1="198.45" x2="50.70" y2="198.45" stroke="#2a2a2a" stroke-width="0.7" />
<line x1="49.20" y1="196.86" x2="50.70" y2="196.86" stroke="#2a2a2a" stroke-width="0.7" />
<line x1="49.20" y1="195.51" x2="50.70" y2="195.51" stroke="#2a2a2a" stroke-width="0.7" />
<line x1="49.20" y1="194.35" x2="50.70" y2="194.35" stroke="#2a2a2a" stroke-width="0.7" />
<line x1="49.20" y1="193.32" x2="50.70" y2="193.32" stroke="#2a2a2a" stroke-width="0.7" />
<text x="44.70" y="196.20" font-size="8.5" fill="#2e2e2e" text-anchor="end">10<tspan font-size="5.8" dy="-3.3">2</tspan></text>
<line x1="48.10" y1="212.50" x2="50.70" y2="212.50" stroke="#2a2a2a" stroke-width="1.0" />
<line x1="49.20" y1="226.55" x2="50.70" y2="226.55" stroke="#2a2a2a" stroke-width="0.7" />
<line x1="49.20" y1="223.01" x2="50.70" y2="223.01" stroke="#2a2a2a" stroke-width="0.7" />
<line x1="49.20" y1="220.50" x2="50.70" y2="220.50" stroke="#2a2a2a" stroke-width="0.7" />
<line x1="49.20" y1="218.55" x2="50.70" y2="218.55" stroke="#2a2a2a" stroke-width="0.7" />
<line x1="49.20" y1="216.96" x2="50.70" y2="216.96" stroke="#2a2a2a" stroke-width="0.7" />
<line x1="49.20" y1="215.61" x2="50.70" y2="215.61" stroke="#2a2a2a" stroke-width="0.7" />
<line x1="49.20" y1="214.45" x2="50.70" y2="214.45" stroke="#2a2a2a" stroke-width="0.7" />
<line x1="49.20" y1="213.42" x2="50.70" y2="213.42" stroke="#2a2a2a" stroke-width="0.7" />
<text x="44.70" y="216.30" font-size="8.5" fill="#2e2e2e" text-anchor="end">10<tspan font-size="5.8" dy="-3.3">1</tspan></text>
<line x1="48.10" y1="232.60" x2="50.70" y2="232.60" stroke="#2a2a2a" stroke-width="1.0" />
<line x1="49.20" y1="246.65" x2="50.70" y2="246.65" stroke="#2a2a2a" stroke-width="0.7" />
<line x1="49.20" y1="243.11" x2="50.70" y2="243.11" stroke="#2a2a2a" stroke-width="0.7" />
<line x1="49.20" y1="240.60" x2="50.70" y2="240.60" stroke="#2a2a2a" stroke-width="0.7" />
<line x1="49.20" y1="238.65" x2="50.70" y2="238.65" stroke="#2a2a2a" stroke-width="0.7" />
<line x1="49.20" y1="237.06" x2="50.70" y2="237.06" stroke="#2a2a2a" stroke-width="0.7" />
<line x1="49.20" y1="235.71" x2="50.70" y2="235.71" stroke="#2a2a2a" stroke-width="0.7" />
<line x1="49.20" y1="234.55" x2="50.70" y2="234.55" stroke="#2a2a2a" stroke-width="0.7" />
<line x1="49.20" y1="233.52" x2="50.70" y2="233.52" stroke="#2a2a2a" stroke-width="0.7" />
<text x="44.70" y="236.40" font-size="8.5" fill="#2e2e2e" text-anchor="end">10<tspan font-size="5.8" dy="-3.3">0</tspan></text>
<line x1="48.10" y1="252.70" x2="50.70" y2="252.70" stroke="#2a2a2a" stroke-width="1.0" />
<line x1="49.20" y1="266.75" x2="50.70" y2="266.75" stroke="#2a2a2a" stroke-width="0.7" />
<line x1="49.20" y1="263.21" x2="50.70" y2="263.21" stroke="#2a2a2a" stroke-width="0.7" />
<line x1="49.20" y1="260.70" x2="50.70" y2="260.70" stroke="#2a2a2a" stroke-width="0.7" />
<line x1="49.20" y1="258.75" x2="50.70" y2="258.75" stroke="#2a2a2a" stroke-width="0.7" />
<line x1="49.20" y1="257.16" x2="50.70" y2="257.16" stroke="#2a2a2a" stroke-width="0.7" />
<line x1="49.20" y1="255.81" x2="50.70" y2="255.81" stroke="#2a2a2a" stroke-width="0.7" />
<line x1="49.20" y1="254.65" x2="50.70" y2="254.65" stroke="#2a2a2a" stroke-width="0.7" />
<line x1="49.20" y1="253.62" x2="50.70" y2="253.62" stroke="#2a2a2a" stroke-width="0.7" />
<text x="44.70" y="256.50" font-size="8.5" fill="#2e2e2e" text-anchor="end">10<tspan font-size="5.8" dy="-3.3">-1</tspan></text>
<line x1="48.10" y1="272.80" x2="50.70" y2="272.80" stroke="#2a2a2a" stroke-width="1.0" />
<text x="44.70" y="276.60" font-size="8.5" fill="#2e2e2e" text-anchor="end">10<tspan font-size="5.8" dy="-3.3">-2</tspan></text>
<line x1="50.10" y1="272.80" x2="143.20" y2="272.80" stroke="#2a2a2a" stroke-width="1.3" />
<line x1="62.20" y1="272.80" x2="62.20" y2="275.60" stroke="#2a2a2a" stroke-width="1.0" />
<text x="62.20" y="286.30" font-size="8.5" text-anchor="middle" font-weight="normal" fill="#2e2e2e" >1</text>
<line x1="79.60" y1="272.80" x2="79.60" y2="275.60" stroke="#2a2a2a" stroke-width="1.0" />
<text x="79.60" y="286.30" font-size="8.5" text-anchor="middle" font-weight="normal" fill="#2e2e2e" >2</text>
<line x1="96.90" y1="272.80" x2="96.90" y2="275.60" stroke="#2a2a2a" stroke-width="1.0" />
<text x="96.90" y="286.30" font-size="8.5" text-anchor="middle" font-weight="normal" fill="#2e2e2e" >3</text>
<line x1="114.20" y1="272.80" x2="114.20" y2="275.60" stroke="#2a2a2a" stroke-width="1.0" />
<text x="114.20" y="286.30" font-size="8.5" text-anchor="middle" font-weight="normal" fill="#2e2e2e" >4</text>
<line x1="131.50" y1="272.80" x2="131.50" y2="275.60" stroke="#2a2a2a" stroke-width="1.0" />
<text x="131.50" y="286.30" font-size="8.5" text-anchor="middle" font-weight="normal" fill="#2e2e2e" >5</text>
<line x1="62.20" y1="227.00" x2="62.20" y2="242.30" stroke="#66a93d" stroke-width="1.0" />
<line x1="60.50" y1="227.00" x2="63.90" y2="227.00" stroke="#66a93d" stroke-width="1.0" />
<line x1="60.50" y1="242.30" x2="63.90" y2="242.30" stroke="#66a93d" stroke-width="1.0" />
<line x1="79.60" y1="231.00" x2="79.60" y2="242.50" stroke="#66a93d" stroke-width="1.0" />
<line x1="77.90" y1="231.00" x2="81.30" y2="231.00" stroke="#66a93d" stroke-width="1.0" />
<line x1="77.90" y1="242.50" x2="81.30" y2="242.50" stroke="#66a93d" stroke-width="1.0" />
<line x1="96.90" y1="233.60" x2="96.90" y2="248.60" stroke="#66a93d" stroke-width="1.0" />
<line x1="95.20" y1="233.60" x2="98.60" y2="233.60" stroke="#66a93d" stroke-width="1.0" />
<line x1="95.20" y1="248.60" x2="98.60" y2="248.60" stroke="#66a93d" stroke-width="1.0" />
<line x1="114.20" y1="227.00" x2="114.20" y2="242.30" stroke="#66a93d" stroke-width="1.0" />
<line x1="112.50" y1="227.00" x2="115.90" y2="227.00" stroke="#66a93d" stroke-width="1.0" />
<line x1="112.50" y1="242.30" x2="115.90" y2="242.30" stroke="#66a93d" stroke-width="1.0" />
<line x1="131.50" y1="220.00" x2="131.50" y2="238.50" stroke="#66a93d" stroke-width="1.0" />
<line x1="129.80" y1="220.00" x2="133.20" y2="220.00" stroke="#66a93d" stroke-width="1.0" />
<line x1="129.80" y1="238.50" x2="133.20" y2="238.50" stroke="#66a93d" stroke-width="1.0" />
<path d="M62.20 233.10 L79.60 236.50 L96.90 241.80 L114.20 233.30 L131.50 230.70" fill="none" stroke="#66a93d" stroke-width="1.35"/>
<circle cx="62.20" cy="233.10" r="2.0" fill="#66a93d" stroke="none" stroke-width="0"/>
<circle cx="79.60" cy="236.50" r="2.0" fill="#66a93d" stroke="none" stroke-width="0"/>
<circle cx="96.90" cy="241.80" r="2.0" fill="#66a93d" stroke="none" stroke-width="0"/>
<circle cx="114.20" cy="233.30" r="2.0" fill="#66a93d" stroke="none" stroke-width="0"/>
<circle cx="131.50" cy="230.70" r="2.0" fill="#66a93d" stroke="none" stroke-width="0"/>
<line x1="62.20" y1="225.40" x2="62.20" y2="240.60" stroke="#2b4884" stroke-width="1.0" />
<line x1="60.50" y1="225.40" x2="63.90" y2="225.40" stroke="#2b4884" stroke-width="1.0" />
<line x1="60.50" y1="240.60" x2="63.90" y2="240.60" stroke="#2b4884" stroke-width="1.0" />
<line x1="79.60" y1="227.40" x2="79.60" y2="242.90" stroke="#2b4884" stroke-width="1.0" />
<line x1="77.90" y1="227.40" x2="81.30" y2="227.40" stroke="#2b4884" stroke-width="1.0" />
<line x1="77.90" y1="242.90" x2="81.30" y2="242.90" stroke="#2b4884" stroke-width="1.0" />
<line x1="96.90" y1="222.70" x2="96.90" y2="238.80" stroke="#2b4884" stroke-width="1.0" />
<line x1="95.20" y1="222.70" x2="98.60" y2="222.70" stroke="#2b4884" stroke-width="1.0" />
<line x1="95.20" y1="238.80" x2="98.60" y2="238.80" stroke="#2b4884" stroke-width="1.0" />
<line x1="114.20" y1="215.60" x2="114.20" y2="241.00" stroke="#2b4884" stroke-width="1.0" />
<line x1="112.50" y1="215.60" x2="115.90" y2="215.60" stroke="#2b4884" stroke-width="1.0" />
<line x1="112.50" y1="241.00" x2="115.90" y2="241.00" stroke="#2b4884" stroke-width="1.0" />
<path d="M62.20 227.90 L79.60 231.20 L96.90 227.40 L114.20 219.70 L131.50 216.00" fill="none" stroke="#2b4884" stroke-width="1.35"/>
<rect x="60.20" y="225.90" width="4.0" height="4.0" fill="#2b4884"/>
<rect x="77.60" y="229.20" width="4.0" height="4.0" fill="#2b4884"/>
<rect x="94.90" y="225.40" width="4.0" height="4.0" fill="#2b4884"/>
<rect x="112.20" y="217.70" width="4.0" height="4.0" fill="#2b4884"/>
<rect x="129.50" y="214.00" width="4.0" height="4.0" fill="#2b4884"/>
<text x="131.60" y="212.20" font-size="9.4" text-anchor="middle" fill="#1e1e1e" stroke="#1e1e1e" stroke-width="0.25">**</text>
<line x1="55.50" y1="172.70" x2="68.30" y2="172.70" stroke="#66a93d" stroke-width="1.35" />
<circle cx="61.90" cy="172.70" r="2.0" fill="#66a93d" stroke="none" stroke-width="0"/>
<line x1="55.50" y1="184.20" x2="68.30" y2="184.20" stroke="#2b4884" stroke-width="1.35" />
<rect x="59.95" y="182.25" width="3.9" height="3.9" fill="#2b4884"/>
<text x="71.70" y="175.10" font-size="7.8" text-anchor="start" font-weight="normal" fill="#2e2e2e" >EBV +</text>
<text x="100.20" y="175.10" font-size="7.8" text-anchor="start" font-weight="normal" fill="#2e2e2e" >-CD27 blo.</text>
<text x="71.70" y="186.60" font-size="7.8" text-anchor="start" font-weight="normal" fill="#2e2e2e" >EBV + IsoCtrl. blo.</text>
<line x1="203.30" y1="189.80" x2="203.30" y2="272.90" stroke="#2a2a2a" stroke-width="1.3" />
<line x1="200.70" y1="192.40" x2="203.30" y2="192.40" stroke="#2a2a2a" stroke-width="1.0" />
<line x1="201.80" y1="206.45" x2="203.30" y2="206.45" stroke="#2a2a2a" stroke-width="0.7" />
<line x1="201.80" y1="202.91" x2="203.30" y2="202.91" stroke="#2a2a2a" stroke-width="0.7" />
<line x1="201.80" y1="200.40" x2="203.30" y2="200.40" stroke="#2a2a2a" stroke-width="0.7" />
<line x1="201.80" y1="198.45" x2="203.30" y2="198.45" stroke="#2a2a2a" stroke-width="0.7" />
<line x1="201.80" y1="196.86" x2="203.30" y2="196.86" stroke="#2a2a2a" stroke-width="0.7" />
<line x1="201.80" y1="195.51" x2="203.30" y2="195.51" stroke="#2a2a2a" stroke-width="0.7" />
<line x1="201.80" y1="194.35" x2="203.30" y2="194.35" stroke="#2a2a2a" stroke-width="0.7" />
<line x1="201.80" y1="193.32" x2="203.30" y2="193.32" stroke="#2a2a2a" stroke-width="0.7" />
<text x="197.30" y="196.20" font-size="8.5" fill="#2e2e2e" text-anchor="end">10<tspan font-size="5.8" dy="-3.3">2</tspan></text>
<line x1="200.70" y1="212.50" x2="203.30" y2="212.50" stroke="#2a2a2a" stroke-width="1.0" />
<line x1="201.80" y1="226.55" x2="203.30" y2="226.55" stroke="#2a2a2a" stroke-width="0.7" />
<line x1="201.80" y1="223.01" x2="203.30" y2="223.01" stroke="#2a2a2a" stroke-width="0.7" />
<line x1="201.80" y1="220.50" x2="203.30" y2="220.50" stroke="#2a2a2a" stroke-width="0.7" />
<line x1="201.80" y1="218.55" x2="203.30" y2="218.55" stroke="#2a2a2a" stroke-width="0.7" />
<line x1="201.80" y1="216.96" x2="203.30" y2="216.96" stroke="#2a2a2a" stroke-width="0.7" />
<line x1="201.80" y1="215.61" x2="203.30" y2="215.61" stroke="#2a2a2a" stroke-width="0.7" />
<line x1="201.80" y1="214.45" x2="203.30" y2="214.45" stroke="#2a2a2a" stroke-width="0.7" />
<line x1="201.80" y1="213.42" x2="203.30" y2="213.42" stroke="#2a2a2a" stroke-width="0.7" />
<text x="197.30" y="216.30" font-size="8.5" fill="#2e2e2e" text-anchor="end">10<tspan font-size="5.8" dy="-3.3">1</tspan></text>
<line x1="200.70" y1="232.60" x2="203.30" y2="232.60" stroke="#2a2a2a" stroke-width="1.0" />
<line x1="201.80" y1="246.72" x2="203.30" y2="246.72" stroke="#2a2a2a" stroke-width="0.7" />
<line x1="201.80" y1="243.16" x2="203.30" y2="243.16" stroke="#2a2a2a" stroke-width="0.7" />
<line x1="201.80" y1="240.64" x2="203.30" y2="240.64" stroke="#2a2a2a" stroke-width="0.7" />
<line x1="201.80" y1="238.68" x2="203.30" y2="238.68" stroke="#2a2a2a" stroke-width="0.7" />
<line x1="201.80" y1="237.08" x2="203.30" y2="237.08" stroke="#2a2a2a" stroke-width="0.7" />
<line x1="201.80" y1="235.73" x2="203.30" y2="235.73" stroke="#2a2a2a" stroke-width="0.7" />
<line x1="201.80" y1="234.56" x2="203.30" y2="234.56" stroke="#2a2a2a" stroke-width="0.7" />
<line x1="201.80" y1="233.52" x2="203.30" y2="233.52" stroke="#2a2a2a" stroke-width="0.7" />
<text x="197.30" y="236.40" font-size="8.5" fill="#2e2e2e" text-anchor="end">10<tspan font-size="5.8" dy="-3.3">0</tspan></text>
<line x1="200.70" y1="252.80" x2="203.30" y2="252.80" stroke="#2a2a2a" stroke-width="1.0" />
<line x1="201.80" y1="266.85" x2="203.30" y2="266.85" stroke="#2a2a2a" stroke-width="0.7" />
<line x1="201.80" y1="263.31" x2="203.30" y2="263.31" stroke="#2a2a2a" stroke-width="0.7" />
<line x1="201.80" y1="260.80" x2="203.30" y2="260.80" stroke="#2a2a2a" stroke-width="0.7" />
<line x1="201.80" y1="258.85" x2="203.30" y2="258.85" stroke="#2a2a2a" stroke-width="0.7" />
<line x1="201.80" y1="257.26" x2="203.30" y2="257.26" stroke="#2a2a2a" stroke-width="0.7" />
<line x1="201.80" y1="255.91" x2="203.30" y2="255.91" stroke="#2a2a2a" stroke-width="0.7" />
<line x1="201.80" y1="254.75" x2="203.30" y2="254.75" stroke="#2a2a2a" stroke-width="0.7" />
<line x1="201.80" y1="253.72" x2="203.30" y2="253.72" stroke="#2a2a2a" stroke-width="0.7" />
<text x="197.30" y="256.60" font-size="8.5" fill="#2e2e2e" text-anchor="end">10<tspan font-size="5.8" dy="-3.3">-1</tspan></text>
<line x1="200.70" y1="272.90" x2="203.30" y2="272.90" stroke="#2a2a2a" stroke-width="1.0" />
<text x="197.30" y="276.70" font-size="8.5" fill="#2e2e2e" text-anchor="end">10<tspan font-size="5.8" dy="-3.3">-2</tspan></text>
<line x1="202.70" y1="272.90" x2="295.40" y2="272.90" stroke="#2a2a2a" stroke-width="1.3" />
<line x1="214.80" y1="272.90" x2="214.80" y2="275.70" stroke="#2a2a2a" stroke-width="1.0" />
<text x="214.80" y="286.30" font-size="8.5" text-anchor="middle" font-weight="normal" fill="#2e2e2e" >1</text>
<line x1="232.10" y1="272.90" x2="232.10" y2="275.70" stroke="#2a2a2a" stroke-width="1.0" />
<text x="232.10" y="286.30" font-size="8.5" text-anchor="middle" font-weight="normal" fill="#2e2e2e" >2</text>
<line x1="249.30" y1="272.90" x2="249.30" y2="275.70" stroke="#2a2a2a" stroke-width="1.0" />
<text x="249.30" y="286.30" font-size="8.5" text-anchor="middle" font-weight="normal" fill="#2e2e2e" >3</text>
<line x1="266.60" y1="272.90" x2="266.60" y2="275.70" stroke="#2a2a2a" stroke-width="1.0" />
<text x="266.60" y="286.30" font-size="8.5" text-anchor="middle" font-weight="normal" fill="#2e2e2e" >4</text>
<line x1="283.80" y1="272.90" x2="283.80" y2="275.70" stroke="#2a2a2a" stroke-width="1.0" />
<text x="283.80" y="286.30" font-size="8.5" text-anchor="middle" font-weight="normal" fill="#2e2e2e" >5</text>
<line x1="214.80" y1="223.50" x2="214.80" y2="254.80" stroke="#66a93d" stroke-width="1.0" />
<line x1="213.10" y1="223.50" x2="216.50" y2="223.50" stroke="#66a93d" stroke-width="1.0" />
<line x1="213.10" y1="254.80" x2="216.50" y2="254.80" stroke="#66a93d" stroke-width="1.0" />
<line x1="232.10" y1="235.00" x2="232.10" y2="248.00" stroke="#66a93d" stroke-width="1.0" />
<line x1="230.40" y1="235.00" x2="233.80" y2="235.00" stroke="#66a93d" stroke-width="1.0" />
<line x1="230.40" y1="248.00" x2="233.80" y2="248.00" stroke="#66a93d" stroke-width="1.0" />
<line x1="249.30" y1="232.00" x2="249.30" y2="235.80" stroke="#66a93d" stroke-width="1.0" />
<line x1="247.60" y1="232.00" x2="251.00" y2="232.00" stroke="#66a93d" stroke-width="1.0" />
<line x1="247.60" y1="235.80" x2="251.00" y2="235.80" stroke="#66a93d" stroke-width="1.0" />
<line x1="266.60" y1="203.00" x2="266.60" y2="232.00" stroke="#66a93d" stroke-width="1.0" />
<line x1="264.90" y1="203.00" x2="268.30" y2="203.00" stroke="#66a93d" stroke-width="1.0" />
<line x1="264.90" y1="232.00" x2="268.30" y2="232.00" stroke="#66a93d" stroke-width="1.0" />
<line x1="283.80" y1="206.50" x2="283.80" y2="227.30" stroke="#66a93d" stroke-width="1.0" />
<line x1="282.10" y1="206.50" x2="285.50" y2="206.50" stroke="#66a93d" stroke-width="1.0" />
<line x1="282.10" y1="227.30" x2="285.50" y2="227.30" stroke="#66a93d" stroke-width="1.0" />
<path d="M214.80 246.30 L232.10 237.90 L249.30 234.10 L266.60 220.50 L283.80 208.90" fill="none" stroke="#66a93d" stroke-width="1.35"/>
<circle cx="214.80" cy="246.30" r="2.0" fill="#66a93d" stroke="none" stroke-width="0"/>
<circle cx="232.10" cy="237.90" r="2.0" fill="#66a93d" stroke="none" stroke-width="0"/>
<circle cx="249.30" cy="234.10" r="2.0" fill="#66a93d" stroke="none" stroke-width="0"/>
<circle cx="266.60" cy="220.50" r="2.0" fill="#66a93d" stroke="none" stroke-width="0"/>
<circle cx="283.80" cy="208.90" r="2.0" fill="#66a93d" stroke="none" stroke-width="0"/>
<line x1="214.80" y1="226.90" x2="214.80" y2="248.50" stroke="#2b4884" stroke-width="1.0" />
<line x1="213.10" y1="226.90" x2="216.50" y2="226.90" stroke="#2b4884" stroke-width="1.0" />
<line x1="213.10" y1="248.50" x2="216.50" y2="248.50" stroke="#2b4884" stroke-width="1.0" />
<line x1="232.10" y1="225.60" x2="232.10" y2="245.30" stroke="#2b4884" stroke-width="1.0" />
<line x1="230.40" y1="225.60" x2="233.80" y2="225.60" stroke="#2b4884" stroke-width="1.0" />
<line x1="230.40" y1="245.30" x2="233.80" y2="245.30" stroke="#2b4884" stroke-width="1.0" />
<line x1="249.30" y1="225.20" x2="249.30" y2="235.00" stroke="#2b4884" stroke-width="1.0" />
<line x1="247.60" y1="225.20" x2="251.00" y2="225.20" stroke="#2b4884" stroke-width="1.0" />
<line x1="247.60" y1="235.00" x2="251.00" y2="235.00" stroke="#2b4884" stroke-width="1.0" />
<line x1="266.60" y1="207.20" x2="266.60" y2="237.50" stroke="#2b4884" stroke-width="1.0" />
<line x1="264.90" y1="207.20" x2="268.30" y2="207.20" stroke="#2b4884" stroke-width="1.0" />
<line x1="264.90" y1="237.50" x2="268.30" y2="237.50" stroke="#2b4884" stroke-width="1.0" />
<line x1="283.80" y1="206.20" x2="283.80" y2="234.70" stroke="#2b4884" stroke-width="1.0" />
<line x1="282.10" y1="206.20" x2="285.50" y2="206.20" stroke="#2b4884" stroke-width="1.0" />
<line x1="282.10" y1="234.70" x2="285.50" y2="234.70" stroke="#2b4884" stroke-width="1.0" />
<path d="M214.80 240.40 L232.10 229.80 L249.30 229.40 L266.60 225.60 L283.80 223.50" fill="none" stroke="#2b4884" stroke-width="1.35"/>
<rect x="212.80" y="238.40" width="4.0" height="4.0" fill="#2b4884"/>
<rect x="230.10" y="227.80" width="4.0" height="4.0" fill="#2b4884"/>
<rect x="247.30" y="227.40" width="4.0" height="4.0" fill="#2b4884"/>
<rect x="264.60" y="223.60" width="4.0" height="4.0" fill="#2b4884"/>
<rect x="281.80" y="221.50" width="4.0" height="4.0" fill="#2b4884"/>
<text x="283.80" y="203.60" font-size="8.4" text-anchor="middle" font-weight="normal" fill="#333" >ns</text>
<line x1="208.20" y1="173.20" x2="221.00" y2="173.20" stroke="#66a93d" stroke-width="1.35" />
<circle cx="214.60" cy="173.20" r="2.0" fill="#66a93d" stroke="none" stroke-width="0"/>
<line x1="208.20" y1="184.20" x2="221.00" y2="184.20" stroke="#2b4884" stroke-width="1.35" />
<rect x="212.65" y="182.25" width="3.9" height="3.9" fill="#2b4884"/>
<text x="224.10" y="175.60" font-size="7.8" text-anchor="start" font-weight="normal" fill="#2e2e2e" >EBV +</text>
<text x="252.60" y="175.60" font-size="7.8" text-anchor="start" font-weight="normal" fill="#2e2e2e" >-CD27 blo.</text>
<text x="224.10" y="186.60" font-size="7.8" text-anchor="start" font-weight="normal" fill="#2e2e2e" >EBV + IsoCtrl. blo.</text>
<line x1="354.70" y1="188.00" x2="354.70" y2="273.00" stroke="#2a2a2a" stroke-width="1.3" />
<line x1="352.10" y1="190.20" x2="354.70" y2="190.20" stroke="#2a2a2a" stroke-width="1.0" />
<line x1="353.20" y1="204.67" x2="354.70" y2="204.67" stroke="#2a2a2a" stroke-width="0.7" />
<line x1="353.20" y1="201.02" x2="354.70" y2="201.02" stroke="#2a2a2a" stroke-width="0.7" />
<line x1="353.20" y1="198.44" x2="354.70" y2="198.44" stroke="#2a2a2a" stroke-width="0.7" />
<line x1="353.20" y1="196.43" x2="354.70" y2="196.43" stroke="#2a2a2a" stroke-width="0.7" />
<line x1="353.20" y1="194.79" x2="354.70" y2="194.79" stroke="#2a2a2a" stroke-width="0.7" />
<line x1="353.20" y1="193.41" x2="354.70" y2="193.41" stroke="#2a2a2a" stroke-width="0.7" />
<line x1="353.20" y1="192.21" x2="354.70" y2="192.21" stroke="#2a2a2a" stroke-width="0.7" />
<line x1="353.20" y1="191.15" x2="354.70" y2="191.15" stroke="#2a2a2a" stroke-width="0.7" />
<text x="348.70" y="194.00" font-size="8.5" fill="#2e2e2e" text-anchor="end">10<tspan font-size="5.8" dy="-3.3">2</tspan></text>
<line x1="352.10" y1="210.90" x2="354.70" y2="210.90" stroke="#2a2a2a" stroke-width="1.0" />
<line x1="353.20" y1="225.44" x2="354.70" y2="225.44" stroke="#2a2a2a" stroke-width="0.7" />
<line x1="353.20" y1="221.78" x2="354.70" y2="221.78" stroke="#2a2a2a" stroke-width="0.7" />
<line x1="353.20" y1="219.18" x2="354.70" y2="219.18" stroke="#2a2a2a" stroke-width="0.7" />
<line x1="353.20" y1="217.16" x2="354.70" y2="217.16" stroke="#2a2a2a" stroke-width="0.7" />
<line x1="353.20" y1="215.51" x2="354.70" y2="215.51" stroke="#2a2a2a" stroke-width="0.7" />
<line x1="353.20" y1="214.12" x2="354.70" y2="214.12" stroke="#2a2a2a" stroke-width="0.7" />
<line x1="353.20" y1="212.92" x2="354.70" y2="212.92" stroke="#2a2a2a" stroke-width="0.7" />
<line x1="353.20" y1="211.85" x2="354.70" y2="211.85" stroke="#2a2a2a" stroke-width="0.7" />
<text x="348.70" y="214.70" font-size="8.5" fill="#2e2e2e" text-anchor="end">10<tspan font-size="5.8" dy="-3.3">1</tspan></text>
<line x1="352.10" y1="231.70" x2="354.70" y2="231.70" stroke="#2a2a2a" stroke-width="1.0" />
<line x1="353.20" y1="246.17" x2="354.70" y2="246.17" stroke="#2a2a2a" stroke-width="0.7" />
<line x1="353.20" y1="242.52" x2="354.70" y2="242.52" stroke="#2a2a2a" stroke-width="0.7" />
<line x1="353.20" y1="239.94" x2="354.70" y2="239.94" stroke="#2a2a2a" stroke-width="0.7" />
<line x1="353.20" y1="237.93" x2="354.70" y2="237.93" stroke="#2a2a2a" stroke-width="0.7" />
<line x1="353.20" y1="236.29" x2="354.70" y2="236.29" stroke="#2a2a2a" stroke-width="0.7" />
<line x1="353.20" y1="234.91" x2="354.70" y2="234.91" stroke="#2a2a2a" stroke-width="0.7" />
<line x1="353.20" y1="233.71" x2="354.70" y2="233.71" stroke="#2a2a2a" stroke-width="0.7" />
<line x1="353.20" y1="232.65" x2="354.70" y2="232.65" stroke="#2a2a2a" stroke-width="0.7" />
<text x="348.70" y="235.50" font-size="8.5" fill="#2e2e2e" text-anchor="end">10<tspan font-size="5.8" dy="-3.3">0</tspan></text>
<line x1="352.10" y1="252.40" x2="354.70" y2="252.40" stroke="#2a2a2a" stroke-width="1.0" />
<line x1="353.20" y1="266.80" x2="354.70" y2="266.80" stroke="#2a2a2a" stroke-width="0.7" />
<line x1="353.20" y1="263.17" x2="354.70" y2="263.17" stroke="#2a2a2a" stroke-width="0.7" />
<line x1="353.20" y1="260.60" x2="354.70" y2="260.60" stroke="#2a2a2a" stroke-width="0.7" />
<line x1="353.20" y1="258.60" x2="354.70" y2="258.60" stroke="#2a2a2a" stroke-width="0.7" />
<line x1="353.20" y1="256.97" x2="354.70" y2="256.97" stroke="#2a2a2a" stroke-width="0.7" />
<line x1="353.20" y1="255.59" x2="354.70" y2="255.59" stroke="#2a2a2a" stroke-width="0.7" />
<line x1="353.20" y1="254.40" x2="354.70" y2="254.40" stroke="#2a2a2a" stroke-width="0.7" />
<line x1="353.20" y1="253.34" x2="354.70" y2="253.34" stroke="#2a2a2a" stroke-width="0.7" />
<text x="348.70" y="256.20" font-size="8.5" fill="#2e2e2e" text-anchor="end">10<tspan font-size="5.8" dy="-3.3">-1</tspan></text>
<line x1="352.10" y1="273.00" x2="354.70" y2="273.00" stroke="#2a2a2a" stroke-width="1.0" />
<text x="348.70" y="276.80" font-size="8.5" fill="#2e2e2e" text-anchor="end">10<tspan font-size="5.8" dy="-3.3">-2</tspan></text>
<line x1="354.10" y1="273.00" x2="448.70" y2="273.00" stroke="#2a2a2a" stroke-width="1.3" />
<line x1="368.70" y1="273.00" x2="368.70" y2="275.80" stroke="#2a2a2a" stroke-width="1.0" />
<line x1="401.70" y1="273.00" x2="401.70" y2="275.80" stroke="#2a2a2a" stroke-width="1.0" />
<line x1="433.40" y1="273.00" x2="433.40" y2="275.80" stroke="#2a2a2a" stroke-width="1.0" />
<text x="369.00" y="286.00" font-size="8.3" text-anchor="middle" font-weight="normal" fill="#2e2e2e" >Blood</text>
<text x="402.00" y="286.00" font-size="8.3" text-anchor="middle" font-weight="normal" fill="#2e2e2e" >Spleen</text>
<text x="433.70" y="286.00" font-size="8.3" text-anchor="middle" font-weight="normal" fill="#2e2e2e" >Liver</text>
<line x1="364.00" y1="218.20" x2="364.00" y2="238.40" stroke="#66a93d" stroke-width="1.0" />
<line x1="362.40" y1="218.20" x2="365.60" y2="218.20" stroke="#66a93d" stroke-width="1.0" />
<line x1="362.40" y1="238.40" x2="365.60" y2="238.40" stroke="#66a93d" stroke-width="1.0" />
<circle cx="363.20" cy="212.90" r="2.55" fill="#66a93d" stroke="none" stroke-width="0"/>
<circle cx="365.90" cy="220.70" r="2.55" fill="#66a93d" stroke="none" stroke-width="0"/>
<circle cx="361.00" cy="226.40" r="2.55" fill="#66a93d" stroke="none" stroke-width="0"/>
<circle cx="360.00" cy="233.10" r="2.55" fill="#66a93d" stroke="none" stroke-width="0"/>
<circle cx="365.20" cy="236.10" r="2.55" fill="#66a93d" stroke="none" stroke-width="0"/>
<circle cx="363.20" cy="247.70" r="2.55" fill="#66a93d" stroke="none" stroke-width="0"/>
<line x1="358.40" y1="229.10" x2="367.10" y2="229.10" stroke="#1a1a1a" stroke-width="1.3" />
<rect x="373.30" y="204.70" width="4.8" height="4.8" fill="#2b4884"/>
<rect x="370.10" y="211.40" width="4.8" height="4.8" fill="#2b4884"/>
<rect x="374.30" y="211.40" width="4.8" height="4.8" fill="#2b4884"/>
<rect x="376.40" y="211.40" width="4.8" height="4.8" fill="#2b4884"/>
<rect x="372.20" y="216.70" width="4.8" height="4.8" fill="#2b4884"/>
<line x1="370.00" y1="213.80" x2="381.00" y2="213.80" stroke="#1a1a1a" stroke-width="1.3" />
<line x1="395.50" y1="220.20" x2="395.50" y2="234.60" stroke="#66a93d" stroke-width="1.0" />
<line x1="393.90" y1="220.20" x2="397.10" y2="220.20" stroke="#66a93d" stroke-width="1.0" />
<line x1="393.90" y1="234.60" x2="397.10" y2="234.60" stroke="#66a93d" stroke-width="1.0" />
<circle cx="395.80" cy="215.50" r="2.55" fill="#66a93d" stroke="none" stroke-width="0"/>
<circle cx="392.60" cy="223.40" r="2.55" fill="#66a93d" stroke="none" stroke-width="0"/>
<circle cx="391.50" cy="235.40" r="2.55" fill="#66a93d" stroke="none" stroke-width="0"/>
<circle cx="397.50" cy="237.50" r="2.55" fill="#66a93d" stroke="none" stroke-width="0"/>
<circle cx="395.30" cy="244.50" r="2.55" fill="#66a93d" stroke="none" stroke-width="0"/>
<line x1="388.00" y1="231.20" x2="399.50" y2="231.20" stroke="#1a1a1a" stroke-width="1.3" />
<line x1="407.40" y1="213.80" x2="407.40" y2="225.50" stroke="#2b4884" stroke-width="1.0" />
<line x1="405.80" y1="213.80" x2="409.00" y2="213.80" stroke="#2b4884" stroke-width="1.0" />
<line x1="405.80" y1="225.50" x2="409.00" y2="225.50" stroke="#2b4884" stroke-width="1.0" />
<rect x="405.00" y="208.30" width="4.8" height="4.8" fill="#2b4884"/>
<rect x="406.10" y="211.40" width="4.8" height="4.8" fill="#2b4884"/>
<rect x="403.90" y="216.70" width="4.8" height="4.8" fill="#2b4884"/>
<rect x="401.80" y="217.80" width="4.8" height="4.8" fill="#2b4884"/>
<rect x="407.80" y="223.10" width="4.8" height="4.8" fill="#2b4884"/>
<rect x="405.00" y="259.00" width="4.8" height="4.8" fill="#2b4884"/>
<line x1="403.00" y1="218.50" x2="414.00" y2="218.50" stroke="#1a1a1a" stroke-width="1.3" />
<line x1="427.20" y1="222.30" x2="427.20" y2="232.90" stroke="#66a93d" stroke-width="1.0" />
<line x1="425.60" y1="222.30" x2="428.80" y2="222.30" stroke="#66a93d" stroke-width="1.0" />
<line x1="425.60" y1="232.90" x2="428.80" y2="232.90" stroke="#66a93d" stroke-width="1.0" />
<circle cx="426.40" cy="221.30" r="2.55" fill="#66a93d" stroke="none" stroke-width="0"/>
<circle cx="430.70" cy="219.80" r="2.55" fill="#66a93d" stroke="none" stroke-width="0"/>
<circle cx="427.50" cy="230.80" r="2.55" fill="#66a93d" stroke="none" stroke-width="0"/>
<circle cx="426.40" cy="231.80" r="2.55" fill="#66a93d" stroke="none" stroke-width="0"/>
<circle cx="427.90" cy="242.00" r="2.55" fill="#66a93d" stroke="none" stroke-width="0"/>
<line x1="421.00" y1="229.70" x2="431.00" y2="229.70" stroke="#1a1a1a" stroke-width="1.3" />
<rect x="437.80" y="207.20" width="4.8" height="4.8" fill="#2b4884"/>
<rect x="436.70" y="209.30" width="4.8" height="4.8" fill="#2b4884"/>
<rect x="438.90" y="211.40" width="4.8" height="4.8" fill="#2b4884"/>
<rect x="436.70" y="214.60" width="4.8" height="4.8" fill="#2b4884"/>
<rect x="437.80" y="221.40" width="4.8" height="4.8" fill="#2b4884"/>
<line x1="434.00" y1="216.40" x2="446.00" y2="216.40" stroke="#1a1a1a" stroke-width="1.3" />
<line x1="361.10" y1="195.50" x2="375.70" y2="195.50" stroke="#3a3a3a" stroke-width="1.0" />
<text x="368.40" y="196.30" font-size="9.4" text-anchor="middle" fill="#1e1e1e" stroke="#1e1e1e" stroke-width="0.25">**</text>
<line x1="426.40" y1="202.50" x2="440.80" y2="202.50" stroke="#3a3a3a" stroke-width="1.0" />
<text x="433.60" y="203.50" font-size="9.4" text-anchor="middle" fill="#1e1e1e" stroke="#1e1e1e" stroke-width="0.25">**</text>
<line x1="50.60" y1="350.50" x2="50.60" y2="436.00" stroke="#2a2a2a" stroke-width="1.3" />
<line x1="48.00" y1="352.40" x2="50.60" y2="352.40" stroke="#2a2a2a" stroke-width="1.0" />
<line x1="49.10" y1="367.22" x2="50.60" y2="367.22" stroke="#2a2a2a" stroke-width="0.7" />
<line x1="49.10" y1="363.49" x2="50.60" y2="363.49" stroke="#2a2a2a" stroke-width="0.7" />
<line x1="49.10" y1="360.84" x2="50.60" y2="360.84" stroke="#2a2a2a" stroke-width="0.7" />
<line x1="49.10" y1="358.78" x2="50.60" y2="358.78" stroke="#2a2a2a" stroke-width="0.7" />
<line x1="49.10" y1="357.10" x2="50.60" y2="357.10" stroke="#2a2a2a" stroke-width="0.7" />
<line x1="49.10" y1="355.68" x2="50.60" y2="355.68" stroke="#2a2a2a" stroke-width="0.7" />
<line x1="49.10" y1="354.45" x2="50.60" y2="354.45" stroke="#2a2a2a" stroke-width="0.7" />
<line x1="49.10" y1="353.37" x2="50.60" y2="353.37" stroke="#2a2a2a" stroke-width="0.7" />
<text x="44.60" y="356.20" font-size="8.5" fill="#2e2e2e" text-anchor="end">10<tspan font-size="5.8" dy="-3.3">2</tspan></text>
<line x1="48.00" y1="373.60" x2="50.60" y2="373.60" stroke="#2a2a2a" stroke-width="1.0" />
<line x1="49.10" y1="388.35" x2="50.60" y2="388.35" stroke="#2a2a2a" stroke-width="0.7" />
<line x1="49.10" y1="384.63" x2="50.60" y2="384.63" stroke="#2a2a2a" stroke-width="0.7" />
<line x1="49.10" y1="382.00" x2="50.60" y2="382.00" stroke="#2a2a2a" stroke-width="0.7" />
<line x1="49.10" y1="379.95" x2="50.60" y2="379.95" stroke="#2a2a2a" stroke-width="0.7" />
<line x1="49.10" y1="378.28" x2="50.60" y2="378.28" stroke="#2a2a2a" stroke-width="0.7" />
<line x1="49.10" y1="376.87" x2="50.60" y2="376.87" stroke="#2a2a2a" stroke-width="0.7" />
<line x1="49.10" y1="375.64" x2="50.60" y2="375.64" stroke="#2a2a2a" stroke-width="0.7" />
<line x1="49.10" y1="374.57" x2="50.60" y2="374.57" stroke="#2a2a2a" stroke-width="0.7" />
<text x="44.60" y="377.40" font-size="8.5" fill="#2e2e2e" text-anchor="end">10<tspan font-size="5.8" dy="-3.3">1</tspan></text>
<line x1="48.00" y1="394.70" x2="50.60" y2="394.70" stroke="#2a2a2a" stroke-width="1.0" />
<line x1="49.10" y1="409.17" x2="50.60" y2="409.17" stroke="#2a2a2a" stroke-width="0.7" />
<line x1="49.10" y1="405.52" x2="50.60" y2="405.52" stroke="#2a2a2a" stroke-width="0.7" />
<line x1="49.10" y1="402.94" x2="50.60" y2="402.94" stroke="#2a2a2a" stroke-width="0.7" />
<line x1="49.10" y1="400.93" x2="50.60" y2="400.93" stroke="#2a2a2a" stroke-width="0.7" />
<line x1="49.10" y1="399.29" x2="50.60" y2="399.29" stroke="#2a2a2a" stroke-width="0.7" />
<line x1="49.10" y1="397.91" x2="50.60" y2="397.91" stroke="#2a2a2a" stroke-width="0.7" />
<line x1="49.10" y1="396.71" x2="50.60" y2="396.71" stroke="#2a2a2a" stroke-width="0.7" />
<line x1="49.10" y1="395.65" x2="50.60" y2="395.65" stroke="#2a2a2a" stroke-width="0.7" />
<text x="44.60" y="398.50" font-size="8.5" fill="#2e2e2e" text-anchor="end">10<tspan font-size="5.8" dy="-3.3">0</tspan></text>
<line x1="48.00" y1="415.40" x2="50.60" y2="415.40" stroke="#2a2a2a" stroke-width="1.0" />
<line x1="49.10" y1="429.80" x2="50.60" y2="429.80" stroke="#2a2a2a" stroke-width="0.7" />
<line x1="49.10" y1="426.17" x2="50.60" y2="426.17" stroke="#2a2a2a" stroke-width="0.7" />
<line x1="49.10" y1="423.60" x2="50.60" y2="423.60" stroke="#2a2a2a" stroke-width="0.7" />
<line x1="49.10" y1="421.60" x2="50.60" y2="421.60" stroke="#2a2a2a" stroke-width="0.7" />
<line x1="49.10" y1="419.97" x2="50.60" y2="419.97" stroke="#2a2a2a" stroke-width="0.7" />
<line x1="49.10" y1="418.59" x2="50.60" y2="418.59" stroke="#2a2a2a" stroke-width="0.7" />
<line x1="49.10" y1="417.40" x2="50.60" y2="417.40" stroke="#2a2a2a" stroke-width="0.7" />
<line x1="49.10" y1="416.34" x2="50.60" y2="416.34" stroke="#2a2a2a" stroke-width="0.7" />
<text x="44.60" y="419.20" font-size="8.5" fill="#2e2e2e" text-anchor="end">10<tspan font-size="5.8" dy="-3.3">-1</tspan></text>
<line x1="48.00" y1="436.00" x2="50.60" y2="436.00" stroke="#2a2a2a" stroke-width="1.0" />
<text x="44.60" y="439.80" font-size="8.5" fill="#2e2e2e" text-anchor="end">10<tspan font-size="5.8" dy="-3.3">-2</tspan></text>
<line x1="50.00" y1="436.00" x2="144.70" y2="436.00" stroke="#2a2a2a" stroke-width="1.3" />
<line x1="65.00" y1="436.00" x2="65.00" y2="438.80" stroke="#2a2a2a" stroke-width="1.0" />
<line x1="97.10" y1="436.00" x2="97.10" y2="438.80" stroke="#2a2a2a" stroke-width="1.0" />
<line x1="130.00" y1="436.00" x2="130.00" y2="438.80" stroke="#2a2a2a" stroke-width="1.0" />
<text x="65.30" y="449.60" font-size="8.3" text-anchor="middle" font-weight="normal" fill="#2e2e2e" >Blood</text>
<text x="97.40" y="449.60" font-size="8.3" text-anchor="middle" font-weight="normal" fill="#2e2e2e" >Spleen</text>
<text x="130.30" y="449.60" font-size="8.3" text-anchor="middle" font-weight="normal" fill="#2e2e2e" >Liver</text>
<line x1="59.00" y1="368.00" x2="59.00" y2="387.00" stroke="#66a93d" stroke-width="1.0" />
<line x1="57.40" y1="368.00" x2="60.60" y2="368.00" stroke="#66a93d" stroke-width="1.0" />
<line x1="57.40" y1="387.00" x2="60.60" y2="387.00" stroke="#66a93d" stroke-width="1.0" />
<circle cx="59.50" cy="368.30" r="2.55" fill="#66a93d" stroke="none" stroke-width="0"/>
<circle cx="61.00" cy="370.40" r="2.55" fill="#66a93d" stroke="none" stroke-width="0"/>
<circle cx="58.50" cy="372.00" r="2.55" fill="#66a93d" stroke="none" stroke-width="0"/>
<circle cx="59.00" cy="377.80" r="2.55" fill="#66a93d" stroke="none" stroke-width="0"/>
<circle cx="59.00" cy="387.30" r="2.55" fill="#66a93d" stroke="none" stroke-width="0"/>
<circle cx="59.00" cy="402.10" r="2.55" fill="#66a93d" stroke="none" stroke-width="0"/>
<line x1="54.40" y1="373.80" x2="63.30" y2="373.80" stroke="#1a1a1a" stroke-width="1.3" />
<line x1="71.20" y1="368.90" x2="71.20" y2="394.70" stroke="#2b4884" stroke-width="1.0" />
<line x1="69.60" y1="368.90" x2="72.80" y2="368.90" stroke="#2b4884" stroke-width="1.0" />
<line x1="69.60" y1="394.70" x2="72.80" y2="394.70" stroke="#2b4884" stroke-width="1.0" />
<rect x="65.60" y="360.20" width="4.8" height="4.8" fill="#2b4884"/>
<rect x="70.80" y="366.50" width="4.8" height="4.8" fill="#2b4884"/>
<rect x="68.60" y="378.10" width="4.8" height="4.8" fill="#2b4884"/>
<rect x="65.60" y="390.40" width="4.8" height="4.8" fill="#2b4884"/>
<rect x="70.20" y="392.30" width="4.8" height="4.8" fill="#2b4884"/>
<rect x="68.60" y="408.20" width="4.8" height="4.8" fill="#2b4884"/>
<line x1="66.90" y1="384.80" x2="75.50" y2="384.80" stroke="#1a1a1a" stroke-width="1.3" />
<line x1="90.50" y1="376.70" x2="90.50" y2="394.30" stroke="#66a93d" stroke-width="1.0" />
<line x1="88.90" y1="376.70" x2="92.10" y2="376.70" stroke="#66a93d" stroke-width="1.0" />
<line x1="88.90" y1="394.30" x2="92.10" y2="394.30" stroke="#66a93d" stroke-width="1.0" />
<circle cx="91.40" cy="373.10" r="2.55" fill="#66a93d" stroke="none" stroke-width="0"/>
<circle cx="94.60" cy="377.20" r="2.55" fill="#66a93d" stroke="none" stroke-width="0"/>
<circle cx="89.20" cy="382.40" r="2.55" fill="#66a93d" stroke="none" stroke-width="0"/>
<circle cx="91.40" cy="389.80" r="2.55" fill="#66a93d" stroke="none" stroke-width="0"/>
<circle cx="91.40" cy="403.80" r="2.55" fill="#66a93d" stroke="none" stroke-width="0"/>
<line x1="87.50" y1="382.40" x2="95.50" y2="382.40" stroke="#1a1a1a" stroke-width="1.3" />
<line x1="103.30" y1="372.00" x2="103.30" y2="390.50" stroke="#2b4884" stroke-width="1.0" />
<line x1="101.70" y1="372.00" x2="104.90" y2="372.00" stroke="#2b4884" stroke-width="1.0" />
<line x1="101.70" y1="390.50" x2="104.90" y2="390.50" stroke="#2b4884" stroke-width="1.0" />
<rect x="99.00" y="369.70" width="4.8" height="4.8" fill="#2b4884"/>
<rect x="104.80" y="368.40" width="4.8" height="4.8" fill="#2b4884"/>
<rect x="100.60" y="388.10" width="4.8" height="4.8" fill="#2b4884"/>
<rect x="101.60" y="390.20" width="4.8" height="4.8" fill="#2b4884"/>
<rect x="101.10" y="400.80" width="4.8" height="4.8" fill="#2b4884"/>
<line x1="99.50" y1="390.50" x2="108.00" y2="390.50" stroke="#1a1a1a" stroke-width="1.3" />
<line x1="124.00" y1="369.30" x2="124.00" y2="390.00" stroke="#66a93d" stroke-width="1.0" />
<line x1="122.40" y1="369.30" x2="125.60" y2="369.30" stroke="#66a93d" stroke-width="1.0" />
<line x1="122.40" y1="390.00" x2="125.60" y2="390.00" stroke="#66a93d" stroke-width="1.0" />
<circle cx="124.00" cy="365.50" r="2.55" fill="#66a93d" stroke="none" stroke-width="0"/>
<circle cx="121.50" cy="376.10" r="2.55" fill="#66a93d" stroke="none" stroke-width="0"/>
<circle cx="127.20" cy="374.60" r="2.55" fill="#66a93d" stroke="none" stroke-width="0"/>
<circle cx="124.00" cy="385.80" r="2.55" fill="#66a93d" stroke="none" stroke-width="0"/>
<circle cx="124.00" cy="397.90" r="2.55" fill="#66a93d" stroke="none" stroke-width="0"/>
<line x1="120.50" y1="375.30" x2="129.00" y2="375.30" stroke="#1a1a1a" stroke-width="1.3" />
<line x1="136.00" y1="374.00" x2="136.00" y2="390.50" stroke="#2b4884" stroke-width="1.0" />
<line x1="134.40" y1="374.00" x2="137.60" y2="374.00" stroke="#2b4884" stroke-width="1.0" />
<line x1="134.40" y1="390.50" x2="137.60" y2="390.50" stroke="#2b4884" stroke-width="1.0" />
<rect x="131.90" y="373.90" width="4.8" height="4.8" fill="#2b4884"/>
<rect x="137.10" y="369.70" width="4.8" height="4.8" fill="#2b4884"/>
<rect x="132.80" y="388.10" width="4.8" height="4.8" fill="#2b4884"/>
<rect x="133.90" y="390.20" width="4.8" height="4.8" fill="#2b4884"/>
<rect x="133.90" y="410.90" width="4.8" height="4.8" fill="#2b4884"/>
<line x1="132.00" y1="390.50" x2="140.50" y2="390.50" stroke="#1a1a1a" stroke-width="1.3" />
<circle cx="65.50" cy="333.10" r="2.2" fill="#66a93d" stroke="none" stroke-width="0"/>
<rect x="63.30" y="343.40" width="4.0" height="4.0" fill="#2b4884"/>
<text x="70.10" y="335.80" font-size="7.8" text-anchor="start" font-weight="normal" fill="#2e2e2e" >EBV +</text>
<text x="98.60" y="335.80" font-size="7.8" text-anchor="start" font-weight="normal" fill="#2e2e2e" >-CD27 blo.</text>
<text x="70.10" y="347.90" font-size="7.8" text-anchor="start" font-weight="normal" fill="#2e2e2e" >EBV + IsoCtrl. blo.</text>
<rect x="185.5" y="357.5" width="57.0" height="57.5" fill="none" stroke="#1e1e1e" stroke-width="1.0"/>
<path d="M184.70 361.17H185.8M188.98 415V416.1M184.70 364.33H185.8M192.16 415V416.1M184.70 367.50H185.8M195.33 415V416.1M184.70 370.67H185.8M198.51 415V416.1M184.70 373.83H185.8M201.69 415V416.1M184.70 377.00H185.8M204.87 415V416.1M184.70 380.17H185.8M208.04 415V416.1M184.70 383.33H185.8M211.22 415V416.1M184.70 386.50H185.8M214.40 415V416.1M184.70 389.67H185.8M217.58 415V416.1M184.70 392.83H185.8M220.76 415V416.1M184.70 396.00H185.8M223.93 415V416.1M184.70 399.17H185.8M227.11 415V416.1M184.70 402.33H185.8M230.29 415V416.1M184.70 405.50H185.8M233.47 415V416.1M184.70 408.67H185.8M236.64 415V416.1M184.70 411.83H185.8M239.82 415V416.1" stroke="#444" stroke-width="0.6" fill="none"/>
<defs><radialGradient id="gd1" cx="0.5" cy="0.5" r="0.5"><stop offset="0" stop-color="#6a6a6a" stop-opacity="0.75"/><stop offset="0.45" stop-color="#8a8a8a" stop-opacity="0.45"/><stop offset="1" stop-color="#bbb" stop-opacity="0"/></radialGradient><radialGradient id="gd2" cx="0.5" cy="0.5" r="0.5"><stop offset="0" stop-color="#888" stop-opacity="0.45"/><stop offset="1" stop-color="#ccc" stop-opacity="0"/></radialGradient></defs>
<ellipse cx="199.8" cy="394.5" rx="10" ry="18" fill="url(#gd1)"/>
<ellipse cx="222.5" cy="375.8" rx="9" ry="3.2" transform="rotate(-30 222.5 375.8)" fill="url(#gd2)"/>
<g fill="#555" fill-opacity="0.35">
<rect x="199.9" y="405.1" width="0.7" height="0.7"/>
<rect x="195.3" y="402.9" width="0.7" height="0.7"/>
<rect x="198.3" y="392.3" width="0.7" height="0.7"/>
<rect x="208.0" y="395.8" width="0.7" height="0.7"/>
<rect x="199.3" y="400.7" width="0.7" height="0.7"/>
<rect x="204.6" y="394.2" width="0.7" height="0.7"/>
<rect x="202.1" y="386.2" width="0.7" height="0.7"/>
<rect x="197.8" y="390.8" width="0.7" height="0.7"/>
<rect x="193.5" y="381.7" width="0.7" height="0.7"/>
<rect x="192.2" y="392.5" width="0.7" height="0.7"/>
<rect x="198.7" y="391.8" width="0.7" height="0.7"/>
<rect x="199.8" y="383.1" width="0.7" height="0.7"/>
<rect x="199.1" y="396.5" width="0.7" height="0.7"/>
<rect x="202.9" y="387.3" width="0.7" height="0.7"/>
<rect x="197.7" y="377.4" width="0.7" height="0.7"/>
<rect x="197.2" y="375.8" width="0.7" height="0.7"/>
<rect x="193.1" y="403.9" width="0.7" height="0.7"/>
<rect x="189.6" y="401.3" width="0.7" height="0.7"/>
<rect x="201.0" y="391.8" width="0.7" height="0.7"/>
<rect x="201.6" y="399.0" width="0.7" height="0.7"/>
<rect x="204.2" y="392.5" width="0.7" height="0.7"/>
<rect x="196.8" y="389.4" width="0.7" height="0.7"/>
<rect x="195.1" y="394.1" width="0.7" height="0.7"/>
<rect x="196.0" y="403.6" width="0.7" height="0.7"/>
<rect x="191.1" y="385.2" width="0.7" height="0.7"/>
<rect x="195.2" y="376.7" width="0.7" height="0.7"/>
<rect x="208.1" y="374.0" width="0.7" height="0.7"/>
<rect x="198.2" y="390.0" width="0.7" height="0.7"/>
<rect x="207.0" y="377.6" width="0.7" height="0.7"/>
<rect x="204.3" y="388.3" width="0.7" height="0.7"/>
<rect x="198.8" y="388.8" width="0.7" height="0.7"/>
<rect x="202.4" y="384.8" width="0.7" height="0.7"/>
<rect x="199.1" y="397.5" width="0.7" height="0.7"/>
<rect x="207.8" y="374.1" width="0.7" height="0.7"/>
<rect x="206.4" y="402.6" width="0.7" height="0.7"/>
<rect x="197.3" y="397.1" width="0.7" height="0.7"/>
<rect x="197.4" y="408.5" width="0.7" height="0.7"/>
<rect x="200.4" y="392.7" width="0.7" height="0.7"/>
<rect x="198.5" y="392.8" width="0.7" height="0.7"/>
<rect x="198.7" y="387.0" width="0.7" height="0.7"/>
<rect x="208.8" y="378.3" width="0.7" height="0.7"/>
<rect x="198.8" y="397.7" width="0.7" height="0.7"/>
<rect x="198.6" y="393.2" width="0.7" height="0.7"/>
<rect x="201.0" y="402.7" width="0.7" height="0.7"/>
<rect x="197.5" y="391.3" width="0.7" height="0.7"/>
<rect x="208.2" y="399.0" width="0.7" height="0.7"/>
<rect x="203.0" y="389.5" width="0.7" height="0.7"/>
<rect x="194.2" y="397.0" width="0.7" height="0.7"/>
<rect x="195.8" y="385.5" width="0.7" height="0.7"/>
<rect x="193.7" y="390.2" width="0.7" height="0.7"/>
<rect x="204.5" y="390.8" width="0.7" height="0.7"/>
<rect x="193.0" y="400.2" width="0.7" height="0.7"/>
<rect x="199.8" y="401.7" width="0.7" height="0.7"/>
<rect x="204.9" y="393.1" width="0.7" height="0.7"/>
<rect x="198.8" y="394.1" width="0.7" height="0.7"/>
<rect x="194.4" y="400.2" width="0.7" height="0.7"/>
<rect x="205.7" y="396.0" width="0.7" height="0.7"/>
<rect x="198.4" y="392.3" width="0.7" height="0.7"/>
<rect x="196.0" y="387.7" width="0.7" height="0.7"/>
<rect x="197.7" y="387.3" width="0.7" height="0.7"/>
<rect x="197.5" y="381.1" width="0.7" height="0.7"/>
<rect x="201.1" y="394.9" width="0.7" height="0.7"/>
<rect x="194.3" y="375.0" width="0.7" height="0.7"/>
<rect x="199.5" y="403.9" width="0.7" height="0.7"/>
<rect x="196.2" y="390.4" width="0.7" height="0.7"/>
<rect x="196.9" y="400.1" width="0.7" height="0.7"/>
<rect x="195.4" y="402.9" width="0.7" height="0.7"/>
<rect x="198.1" y="402.4" width="0.7" height="0.7"/>
<rect x="199.6" y="392.5" width="0.7" height="0.7"/>
<rect x="192.8" y="388.7" width="0.7" height="0.7"/>
<rect x="198.3" y="400.1" width="0.7" height="0.7"/>
<rect x="200.6" y="388.6" width="0.7" height="0.7"/>
<rect x="201.3" y="402.9" width="0.7" height="0.7"/>
<rect x="198.8" y="390.8" width="0.7" height="0.7"/>
<rect x="197.7" y="401.4" width="0.7" height="0.7"/>
<rect x="201.9" y="386.6" width="0.7" height="0.7"/>
<rect x="201.2" y="390.4" width="0.7" height="0.7"/>
<rect x="196.1" y="405.0" width="0.7" height="0.7"/>
<rect x="203.2" y="388.3" width="0.7" height="0.7"/>
<rect x="199.9" y="398.8" width="0.7" height="0.7"/>
<rect x="196.6" y="393.5" width="0.7" height="0.7"/>
<rect x="202.5" y="379.3" width="0.7" height="0.7"/>
<rect x="201.0" y="400.8" width="0.7" height="0.7"/>
<rect x="201.8" y="383.1" width="0.7" height="0.7"/>
<rect x="200.9" y="387.2" width="0.7" height="0.7"/>
<rect x="202.1" y="399.6" width="0.7" height="0.7"/>
<rect x="200.5" y="388.0" width="0.7" height="0.7"/>
<rect x="196.8" y="401.8" width="0.7" height="0.7"/>
<rect x="195.5" y="398.7" width="0.7" height="0.7"/>
<rect x="201.8" y="392.1" width="0.7" height="0.7"/>
<rect x="209.2" y="377.4" width="0.7" height="0.7"/>
<rect x="189.4" y="402.8" width="0.7" height="0.7"/>
<rect x="202.4" y="391.8" width="0.7" height="0.7"/>
<rect x="199.3" y="378.3" width="0.7" height="0.7"/>
<rect x="196.7" y="385.7" width="0.7" height="0.7"/>
<rect x="198.5" y="402.0" width="0.7" height="0.7"/>
<rect x="199.7" y="397.7" width="0.7" height="0.7"/>
<rect x="196.4" y="390.8" width="0.7" height="0.7"/>
<rect x="200.0" y="392.1" width="0.7" height="0.7"/>
<rect x="205.2" y="387.1" width="0.7" height="0.7"/>
<rect x="208.0" y="386.2" width="0.7" height="0.7"/>
<rect x="204.3" y="387.9" width="0.7" height="0.7"/>
<rect x="206.9" y="395.7" width="0.7" height="0.7"/>
<rect x="201.3" y="400.8" width="0.7" height="0.7"/>
<rect x="196.6" y="385.6" width="0.7" height="0.7"/>
<rect x="190.4" y="404.9" width="0.7" height="0.7"/>
<rect x="196.4" y="389.5" width="0.7" height="0.7"/>
<rect x="199.4" y="411.4" width="0.7" height="0.7"/>
<rect x="191.7" y="396.6" width="0.7" height="0.7"/>
<rect x="197.7" y="399.0" width="0.7" height="0.7"/>
<rect x="191.4" y="391.1" width="0.7" height="0.7"/>
<rect x="203.3" y="407.8" width="0.7" height="0.7"/>
<rect x="206.7" y="387.2" width="0.7" height="0.7"/>
<rect x="199.7" y="393.6" width="0.7" height="0.7"/>
<rect x="193.3" y="382.3" width="0.7" height="0.7"/>
<rect x="202.9" y="396.6" width="0.7" height="0.7"/>
<rect x="198.9" y="404.8" width="0.7" height="0.7"/>
<rect x="195.0" y="399.0" width="0.7" height="0.7"/>
<rect x="199.5" y="394.0" width="0.7" height="0.7"/>
<rect x="201.7" y="396.0" width="0.7" height="0.7"/>
<rect x="200.7" y="396.8" width="0.7" height="0.7"/>
<rect x="208.2" y="391.9" width="0.7" height="0.7"/>
<rect x="204.1" y="399.7" width="0.7" height="0.7"/>
<rect x="197.9" y="401.3" width="0.7" height="0.7"/>
<rect x="195.6" y="404.4" width="0.7" height="0.7"/>
<rect x="195.9" y="390.3" width="0.7" height="0.7"/>
<rect x="201.0" y="401.6" width="0.7" height="0.7"/>
<rect x="203.6" y="402.1" width="0.7" height="0.7"/>
<rect x="198.6" y="386.4" width="0.7" height="0.7"/>
<rect x="202.0" y="397.1" width="0.7" height="0.7"/>
<rect x="195.2" y="402.8" width="0.7" height="0.7"/>
<rect x="200.4" y="386.4" width="0.7" height="0.7"/>
<rect x="201.5" y="383.2" width="0.7" height="0.7"/>
<rect x="195.6" y="397.9" width="0.7" height="0.7"/>
<rect x="192.5" y="394.8" width="0.7" height="0.7"/>
<rect x="193.4" y="400.8" width="0.7" height="0.7"/>
<rect x="196.2" y="396.1" width="0.7" height="0.7"/>
<rect x="192.7" y="391.6" width="0.7" height="0.7"/>
<rect x="203.8" y="398.4" width="0.7" height="0.7"/>
<rect x="191.2" y="402.4" width="0.7" height="0.7"/>
<rect x="203.5" y="391.3" width="0.7" height="0.7"/>
<rect x="205.9" y="385.5" width="0.7" height="0.7"/>
<rect x="199.1" y="404.0" width="0.7" height="0.7"/>
<rect x="205.4" y="405.4" width="0.7" height="0.7"/>
<rect x="194.6" y="379.4" width="0.7" height="0.7"/>
<rect x="201.3" y="382.3" width="0.7" height="0.7"/>
<rect x="198.9" y="383.6" width="0.7" height="0.7"/>
<rect x="204.3" y="401.3" width="0.7" height="0.7"/>
<rect x="202.0" y="394.6" width="0.7" height="0.7"/>
<rect x="199.7" y="392.0" width="0.7" height="0.7"/>
<rect x="201.2" y="396.6" width="0.7" height="0.7"/>
<rect x="201.6" y="390.9" width="0.7" height="0.7"/>
<rect x="208.0" y="396.9" width="0.7" height="0.7"/>
<rect x="205.8" y="405.8" width="0.7" height="0.7"/>
<rect x="195.5" y="380.2" width="0.7" height="0.7"/>
<rect x="205.2" y="391.2" width="0.7" height="0.7"/>
<rect x="199.9" y="392.3" width="0.7" height="0.7"/>
<rect x="200.1" y="384.4" width="0.7" height="0.7"/>
<rect x="199.0" y="390.6" width="0.7" height="0.7"/>
<rect x="199.4" y="374.7" width="0.7" height="0.7"/>
<rect x="203.2" y="397.3" width="0.7" height="0.7"/>
<rect x="191.7" y="388.3" width="0.7" height="0.7"/>
<rect x="199.6" y="399.8" width="0.7" height="0.7"/>
<rect x="199.5" y="406.3" width="0.7" height="0.7"/>
<rect x="199.6" y="386.0" width="0.7" height="0.7"/>
<rect x="196.5" y="400.8" width="0.7" height="0.7"/>
<rect x="196.7" y="401.6" width="0.7" height="0.7"/>
<rect x="204.1" y="399.5" width="0.7" height="0.7"/>
<rect x="204.1" y="393.0" width="0.7" height="0.7"/>
<rect x="199.5" y="389.5" width="0.7" height="0.7"/>
<rect x="196.8" y="381.2" width="0.7" height="0.7"/>
<rect x="197.0" y="385.4" width="0.7" height="0.7"/>
<rect x="193.1" y="395.7" width="0.7" height="0.7"/>
<rect x="201.5" y="391.6" width="0.7" height="0.7"/>
<rect x="205.7" y="402.5" width="0.7" height="0.7"/>
<rect x="204.2" y="389.4" width="0.7" height="0.7"/>
<rect x="192.8" y="399.2" width="0.7" height="0.7"/>
<rect x="200.9" y="400.7" width="0.7" height="0.7"/>
<rect x="201.4" y="405.2" width="0.7" height="0.7"/>
<rect x="198.2" y="400.2" width="0.7" height="0.7"/>
<rect x="195.5" y="374.9" width="0.7" height="0.7"/>
<rect x="197.5" y="407.2" width="0.7" height="0.7"/>
<rect x="192.0" y="403.1" width="0.7" height="0.7"/>
<rect x="196.4" y="391.1" width="0.7" height="0.7"/>
<rect x="199.7" y="396.3" width="0.7" height="0.7"/>
<rect x="195.1" y="395.6" width="0.7" height="0.7"/>
<rect x="201.5" y="401.6" width="0.7" height="0.7"/>
<rect x="196.1" y="407.7" width="0.7" height="0.7"/>
<rect x="193.5" y="396.0" width="0.7" height="0.7"/>
<rect x="191.1" y="397.7" width="0.7" height="0.7"/>
<rect x="202.0" y="384.7" width="0.7" height="0.7"/>
<rect x="192.4" y="396.1" width="0.7" height="0.7"/>
<rect x="202.3" y="387.8" width="0.7" height="0.7"/>
<rect x="198.3" y="373.0" width="0.7" height="0.7"/>
<rect x="196.3" y="395.7" width="0.7" height="0.7"/>
<rect x="200.2" y="408.0" width="0.7" height="0.7"/>
<rect x="194.4" y="375.4" width="0.7" height="0.7"/>
<rect x="201.5" y="389.5" width="0.7" height="0.7"/>
<rect x="200.8" y="400.6" width="0.7" height="0.7"/>
<rect x="202.2" y="406.8" width="0.7" height="0.7"/>
<rect x="205.6" y="380.4" width="0.7" height="0.7"/>
<rect x="199.2" y="411.5" width="0.7" height="0.7"/>
<rect x="197.7" y="402.7" width="0.7" height="0.7"/>
<rect x="199.2" y="390.9" width="0.7" height="0.7"/>
<rect x="206.6" y="403.4" width="0.7" height="0.7"/>
<rect x="198.4" y="402.2" width="0.7" height="0.7"/>
<rect x="193.6" y="388.3" width="0.7" height="0.7"/>
<rect x="203.6" y="394.8" width="0.7" height="0.7"/>
<rect x="194.7" y="398.3" width="0.7" height="0.7"/>
<rect x="201.0" y="405.4" width="0.7" height="0.7"/>
<rect x="203.8" y="392.2" width="0.7" height="0.7"/>
<rect x="197.3" y="393.3" width="0.7" height="0.7"/>
<rect x="198.5" y="406.9" width="0.7" height="0.7"/>
<rect x="206.6" y="406.0" width="0.7" height="0.7"/>
<rect x="201.2" y="392.4" width="0.7" height="0.7"/>
<rect x="203.6" y="391.5" width="0.7" height="0.7"/>
<rect x="222.3" y="373.4" width="0.7" height="0.7"/>
<rect x="221.8" y="378.4" width="0.7" height="0.7"/>
<rect x="217.5" y="376.4" width="0.7" height="0.7"/>
<rect x="222.9" y="378.0" width="0.7" height="0.7"/>
<rect x="227.9" y="372.1" width="0.7" height="0.7"/>
<rect x="220.6" y="376.8" width="0.7" height="0.7"/>
<rect x="218.9" y="377.9" width="0.7" height="0.7"/>
<rect x="220.4" y="374.8" width="0.7" height="0.7"/>
<rect x="220.1" y="376.8" width="0.7" height="0.7"/>
<rect x="218.4" y="376.5" width="0.7" height="0.7"/>
<rect x="227.3" y="375.9" width="0.7" height="0.7"/>
<rect x="221.1" y="376.0" width="0.7" height="0.7"/>
<rect x="224.3" y="374.4" width="0.7" height="0.7"/>
<rect x="220.4" y="379.1" width="0.7" height="0.7"/>
<rect x="218.0" y="377.3" width="0.7" height="0.7"/>
<rect x="219.3" y="376.3" width="0.7" height="0.7"/>
<rect x="221.9" y="377.0" width="0.7" height="0.7"/>
<rect x="228.5" y="373.3" width="0.7" height="0.7"/>
<rect x="221.8" y="374.3" width="0.7" height="0.7"/>
<rect x="221.6" y="374.9" width="0.7" height="0.7"/>
<rect x="222.8" y="377.1" width="0.7" height="0.7"/>
<rect x="223.2" y="375.1" width="0.7" height="0.7"/>
<rect x="219.6" y="377.5" width="0.7" height="0.7"/>
<rect x="222.3" y="374.5" width="0.7" height="0.7"/>
<rect x="221.1" y="377.9" width="0.7" height="0.7"/>
<rect x="215.7" y="379.0" width="0.7" height="0.7"/>
<rect x="219.0" y="380.2" width="0.7" height="0.7"/>
<rect x="225.2" y="375.0" width="0.7" height="0.7"/>
<rect x="224.2" y="375.2" width="0.7" height="0.7"/>
<rect x="222.6" y="373.4" width="0.7" height="0.7"/>
</g>
<ellipse cx="197.4" cy="393.2" rx="11.0" ry="21.5" transform="rotate(-4 197.4 393.2)" fill="none" stroke="#1e1e1e" stroke-width="0.95"/>
<ellipse cx="222.2" cy="376.2" rx="17.0" ry="9.2" transform="rotate(-33 222.2 376.2)" fill="none" stroke="#1e1e1e" stroke-width="0.95"/>
<text x="188.60" y="365.70" font-size="5.6" text-anchor="start" font-weight="normal" fill="#222" >CD8 Pent+</text>
<text x="206.80" y="413.30" font-size="5.6" text-anchor="start" font-weight="normal" fill="#222" >CD8 Pent-</text>
<line x1="175.80" y1="426.30" x2="175.80" y2="411.00" stroke="#222" stroke-width="0.95" />
<path d="M173.30 414.10 L175.80 408.50 L178.30 414.10 L175.80 413.10 Z" fill="#1a1a1a"/>
<line x1="175.80" y1="426.30" x2="192.80" y2="426.30" stroke="#222" stroke-width="0.95" />
<path d="M189.70 423.80 L195.30 426.30 L189.70 428.80 L190.70 426.30 Z" fill="#1a1a1a"/>
<line x1="305.50" y1="350.50" x2="305.50" y2="436.00" stroke="#2a2a2a" stroke-width="1.3" />
<line x1="303.10" y1="352.80" x2="305.50" y2="352.80" stroke="#2a2a2a" stroke-width="1.0" />
<text x="300.10" y="355.80" font-size="8.5" text-anchor="end" font-weight="normal" fill="#2e2e2e" >100</text>
<line x1="303.10" y1="369.44" x2="305.50" y2="369.44" stroke="#2a2a2a" stroke-width="1.0" />
<text x="300.10" y="372.44" font-size="8.5" text-anchor="end" font-weight="normal" fill="#2e2e2e" >80</text>
<line x1="303.10" y1="386.08" x2="305.50" y2="386.08" stroke="#2a2a2a" stroke-width="1.0" />
<text x="300.10" y="389.08" font-size="8.5" text-anchor="end" font-weight="normal" fill="#2e2e2e" >60</text>
<line x1="303.10" y1="402.72" x2="305.50" y2="402.72" stroke="#2a2a2a" stroke-width="1.0" />
<text x="300.10" y="405.72" font-size="8.5" text-anchor="end" font-weight="normal" fill="#2e2e2e" >40</text>
<line x1="303.10" y1="419.36" x2="305.50" y2="419.36" stroke="#2a2a2a" stroke-width="1.0" />
<text x="300.10" y="422.36" font-size="8.5" text-anchor="end" font-weight="normal" fill="#2e2e2e" >20</text>
<line x1="303.10" y1="436.00" x2="305.50" y2="436.00" stroke="#2a2a2a" stroke-width="1.0" />
<text x="300.10" y="439.00" font-size="8.5" text-anchor="end" font-weight="normal" fill="#2e2e2e" >0</text>
<line x1="304.90" y1="436.00" x2="378.30" y2="436.00" stroke="#2a2a2a" stroke-width="1.3" />
<line x1="322.40" y1="436.00" x2="322.40" y2="438.80" stroke="#2a2a2a" stroke-width="1.0" />
<line x1="361.20" y1="436.00" x2="361.20" y2="438.80" stroke="#2a2a2a" stroke-width="1.0" />
<line x1="315.60" y1="388.80" x2="315.60" y2="414.00" stroke="#b0123c" stroke-width="1.0" />
<line x1="314.00" y1="388.80" x2="317.20" y2="388.80" stroke="#b0123c" stroke-width="1.0" />
<line x1="314.00" y1="414.00" x2="317.20" y2="414.00" stroke="#b0123c" stroke-width="1.0" />
<circle cx="315.00" cy="386.40" r="2.55" fill="#b0123c" stroke="none" stroke-width="0"/>
<circle cx="315.40" cy="393.30" r="2.55" fill="#b0123c" stroke="none" stroke-width="0"/>
<circle cx="313.00" cy="397.50" r="2.55" fill="#b0123c" stroke="none" stroke-width="0"/>
<circle cx="317.80" cy="402.90" r="2.55" fill="#b0123c" stroke="none" stroke-width="0"/>
<circle cx="315.00" cy="425.10" r="2.55" fill="#b0123c" stroke="none" stroke-width="0"/>
<line x1="311.20" y1="397.50" x2="319.60" y2="397.50" stroke="#1a1a1a" stroke-width="1.3" />
<line x1="326.00" y1="393.30" x2="334.00" y2="393.30" stroke="#1a1a1a" stroke-width="1.3" />
<line x1="330.00" y1="388.00" x2="330.00" y2="395.00" stroke="#8f8fd8" stroke-width="1.0" />
<line x1="328.40" y1="388.00" x2="331.60" y2="388.00" stroke="#8f8fd8" stroke-width="1.0" />
<line x1="328.40" y1="395.00" x2="331.60" y2="395.00" stroke="#8f8fd8" stroke-width="1.0" />
<circle cx="330.00" cy="381.00" r="2.25" fill="#9393de" stroke="#1c1c28" stroke-width="1.0"/>
<circle cx="327.00" cy="395.70" r="2.25" fill="#9393de" stroke="#1c1c28" stroke-width="1.0"/>
<circle cx="330.00" cy="397.00" r="2.25" fill="#9393de" stroke="#1c1c28" stroke-width="1.0"/>
<circle cx="333.00" cy="395.00" r="2.25" fill="#9393de" stroke="#1c1c28" stroke-width="1.0"/>
<circle cx="329.50" cy="399.20" r="2.25" fill="#9393de" stroke="#1c1c28" stroke-width="1.0"/>
<line x1="353.70" y1="374.80" x2="353.70" y2="384.40" stroke="#b0123c" stroke-width="1.0" />
<line x1="352.10" y1="374.80" x2="355.30" y2="374.80" stroke="#b0123c" stroke-width="1.0" />
<line x1="352.10" y1="384.40" x2="355.30" y2="384.40" stroke="#b0123c" stroke-width="1.0" />
<circle cx="351.60" cy="370.30" r="2.55" fill="#b0123c" stroke="none" stroke-width="0"/>
<circle cx="356.00" cy="371.60" r="2.55" fill="#b0123c" stroke="none" stroke-width="0"/>
<circle cx="353.50" cy="377.70" r="2.55" fill="#b0123c" stroke="none" stroke-width="0"/>
<circle cx="356.00" cy="380.20" r="2.55" fill="#b0123c" stroke="none" stroke-width="0"/>
<circle cx="353.50" cy="385.10" r="2.55" fill="#b0123c" stroke="none" stroke-width="0"/>
<circle cx="353.50" cy="391.30" r="2.55" fill="#b0123c" stroke="none" stroke-width="0"/>
<circle cx="353.50" cy="410.50" r="2.55" fill="#b0123c" stroke="none" stroke-width="0"/>
<line x1="349.40" y1="379.70" x2="358.00" y2="379.70" stroke="#1a1a1a" stroke-width="1.3" />
<line x1="363.50" y1="401.50" x2="372.00" y2="401.50" stroke="#1a1a1a" stroke-width="1.3" />
<circle cx="369.80" cy="395.00" r="2.25" fill="#9393de" stroke="#1c1c28" stroke-width="1.0"/>
<circle cx="366.00" cy="398.20" r="2.25" fill="#9393de" stroke="#1c1c28" stroke-width="1.0"/>
<circle cx="371.00" cy="401.20" r="2.25" fill="#9393de" stroke="#1c1c28" stroke-width="1.0"/>
<circle cx="364.80" cy="401.90" r="2.25" fill="#9393de" stroke="#1c1c28" stroke-width="1.0"/>
<circle cx="367.30" cy="404.90" r="2.25" fill="#9393de" stroke="#1c1c28" stroke-width="1.0"/>
<circle cx="368.00" cy="408.00" r="2.25" fill="#9393de" stroke="#1c1c28" stroke-width="1.0"/>
<circle cx="369.80" cy="407.30" r="2.25" fill="#9393de" stroke="#1c1c28" stroke-width="1.0"/>
<line x1="317.40" y1="355.00" x2="350.70" y2="355.00" stroke="#3a3a3a" stroke-width="1.0" />
<text x="333.80" y="356.00" font-size="9.4" text-anchor="middle" fill="#1e1e1e" stroke="#1e1e1e" stroke-width="0.25">*</text>
<line x1="354.10" y1="363.50" x2="368.90" y2="363.50" stroke="#3a3a3a" stroke-width="1.0" />
<text x="361.30" y="364.40" font-size="9.4" text-anchor="middle" fill="#1e1e1e" stroke="#1e1e1e" stroke-width="0.25">*</text>
<text transform="translate(319.00 443.80) rotate(-45)" x="0" y="0" font-size="8.6" text-anchor="end" fill="#2e2e2e">EBV+</text>
<text transform="translate(335.60 443.10) rotate(-45)" x="0" y="0" font-size="8.6" text-anchor="end" fill="#2e2e2e">-CD27 blo.</text>
<text transform="translate(358.20 443.80) rotate(-45)" x="0" y="0" font-size="8.6" text-anchor="end" fill="#2e2e2e">EBV+</text>
<text transform="translate(373.70 443.70) rotate(-45)" x="0" y="0" font-size="8.6" text-anchor="end" fill="#2e2e2e">IsoCtrl. blo.</text>
<line x1="436.00" y1="350.00" x2="436.00" y2="436.10" stroke="#2a2a2a" stroke-width="1.3" />
<line x1="433.60" y1="351.80" x2="436.00" y2="351.80" stroke="#2a2a2a" stroke-width="1.0" />
<text x="430.60" y="354.80" font-size="8.5" text-anchor="end" font-weight="normal" fill="#2e2e2e" >100</text>
<line x1="433.60" y1="368.66" x2="436.00" y2="368.66" stroke="#2a2a2a" stroke-width="1.0" />
<text x="430.60" y="371.66" font-size="8.5" text-anchor="end" font-weight="normal" fill="#2e2e2e" >80</text>
<line x1="433.60" y1="385.52" x2="436.00" y2="385.52" stroke="#2a2a2a" stroke-width="1.0" />
<text x="430.60" y="388.52" font-size="8.5" text-anchor="end" font-weight="normal" fill="#2e2e2e" >60</text>
<line x1="433.60" y1="402.38" x2="436.00" y2="402.38" stroke="#2a2a2a" stroke-width="1.0" />
<text x="430.60" y="405.38" font-size="8.5" text-anchor="end" font-weight="normal" fill="#2e2e2e" >40</text>
<line x1="433.60" y1="419.24" x2="436.00" y2="419.24" stroke="#2a2a2a" stroke-width="1.0" />
<text x="430.60" y="422.24" font-size="8.5" text-anchor="end" font-weight="normal" fill="#2e2e2e" >20</text>
<line x1="433.60" y1="436.10" x2="436.00" y2="436.10" stroke="#2a2a2a" stroke-width="1.0" />
<text x="430.60" y="439.10" font-size="8.5" text-anchor="end" font-weight="normal" fill="#2e2e2e" >0</text>
<line x1="435.40" y1="436.10" x2="508.90" y2="436.10" stroke="#2a2a2a" stroke-width="1.3" />
<line x1="452.90" y1="436.10" x2="452.90" y2="438.90" stroke="#2a2a2a" stroke-width="1.0" />
<line x1="491.80" y1="436.10" x2="491.80" y2="438.90" stroke="#2a2a2a" stroke-width="1.0" />
<line x1="445.80" y1="380.80" x2="445.80" y2="405.30" stroke="#b0123c" stroke-width="1.0" />
<line x1="444.20" y1="380.80" x2="447.40" y2="380.80" stroke="#b0123c" stroke-width="1.0" />
<line x1="444.20" y1="405.30" x2="447.40" y2="405.30" stroke="#b0123c" stroke-width="1.0" />
<circle cx="445.80" cy="376.50" r="2.55" fill="#b0123c" stroke="none" stroke-width="0"/>
<circle cx="443.70" cy="395.20" r="2.55" fill="#b0123c" stroke="none" stroke-width="0"/>
<circle cx="448.30" cy="397.40" r="2.55" fill="#b0123c" stroke="none" stroke-width="0"/>
<circle cx="445.80" cy="408.20" r="2.55" fill="#b0123c" stroke="none" stroke-width="0"/>
<line x1="441.50" y1="395.60" x2="450.00" y2="395.60" stroke="#b0123c" stroke-width="1.3" />
<line x1="455.90" y1="391.20" x2="465.30" y2="391.20" stroke="#1a1a1a" stroke-width="1.3" />
<line x1="460.70" y1="391.20" x2="460.70" y2="407.50" stroke="#8f8fd8" stroke-width="1.0" />
<line x1="459.10" y1="391.20" x2="462.30" y2="391.20" stroke="#8f8fd8" stroke-width="1.0" />
<line x1="459.10" y1="407.50" x2="462.30" y2="407.50" stroke="#8f8fd8" stroke-width="1.0" />
<circle cx="458.10" cy="387.00" r="2.25" fill="#9393de" stroke="#1c1c28" stroke-width="1.0"/>
<circle cx="463.10" cy="384.90" r="2.25" fill="#9393de" stroke="#1c1c28" stroke-width="1.0"/>
<circle cx="460.70" cy="394.50" r="2.25" fill="#9393de" stroke="#1c1c28" stroke-width="1.0"/>
<circle cx="460.70" cy="411.60" r="2.25" fill="#9393de" stroke="#1c1c28" stroke-width="1.0"/>
<line x1="485.20" y1="387.30" x2="485.20" y2="406.00" stroke="#b0123c" stroke-width="1.0" />
<line x1="483.60" y1="387.30" x2="486.80" y2="387.30" stroke="#b0123c" stroke-width="1.0" />
<line x1="483.60" y1="406.00" x2="486.80" y2="406.00" stroke="#b0123c" stroke-width="1.0" />
<circle cx="485.20" cy="380.40" r="2.55" fill="#b0123c" stroke="none" stroke-width="0"/>
<circle cx="487.20" cy="389.50" r="2.55" fill="#b0123c" stroke="none" stroke-width="0"/>
<circle cx="482.60" cy="394.50" r="2.55" fill="#b0123c" stroke="none" stroke-width="0"/>
<circle cx="482.60" cy="401.70" r="2.55" fill="#b0123c" stroke="none" stroke-width="0"/>
<circle cx="487.20" cy="405.40" r="2.55" fill="#b0123c" stroke="none" stroke-width="0"/>
<circle cx="485.20" cy="412.10" r="2.55" fill="#b0123c" stroke="none" stroke-width="0"/>
<line x1="480.00" y1="398.10" x2="489.80" y2="398.10" stroke="#1a1a1a" stroke-width="1.3" />
<line x1="494.00" y1="395.20" x2="505.00" y2="395.20" stroke="#1a1a1a" stroke-width="1.3" />
<line x1="499.30" y1="395.20" x2="499.30" y2="404.30" stroke="#8f8fd8" stroke-width="1.0" />
<line x1="497.70" y1="395.20" x2="500.90" y2="395.20" stroke="#8f8fd8" stroke-width="1.0" />
<line x1="497.70" y1="404.30" x2="500.90" y2="404.30" stroke="#8f8fd8" stroke-width="1.0" />
<circle cx="497.00" cy="391.60" r="2.25" fill="#9393de" stroke="#1c1c28" stroke-width="1.0"/>
<circle cx="499.60" cy="391.60" r="2.25" fill="#9393de" stroke="#1c1c28" stroke-width="1.0"/>
<circle cx="495.60" cy="394.50" r="2.25" fill="#9393de" stroke="#1c1c28" stroke-width="1.0"/>
<circle cx="502.80" cy="395.70" r="2.25" fill="#9393de" stroke="#1c1c28" stroke-width="1.0"/>
<circle cx="498.50" cy="396.70" r="2.25" fill="#9393de" stroke="#1c1c28" stroke-width="1.0"/>
<circle cx="501.10" cy="400.00" r="2.25" fill="#9393de" stroke="#1c1c28" stroke-width="1.0"/>
<circle cx="499.60" cy="417.60" r="2.25" fill="#9393de" stroke="#1c1c28" stroke-width="1.0"/>
<circle cx="451.70" cy="332.90" r="2.3" fill="#b0123c" stroke="none" stroke-width="0"/>
<text x="455.80" y="335.70" font-size="8.0" text-anchor="start" font-weight="normal" fill="#2e2e2e" >CD8 Pent+</text>
<circle cx="451.70" cy="344.90" r="2.0" fill="#9393de" stroke="#1c1c28" stroke-width="1.0"/>
<text x="455.80" y="347.70" font-size="8.0" text-anchor="start" font-weight="normal" fill="#2e2e2e" >CD8 Pent-</text>
<text transform="translate(449.30 444.80) rotate(-45)" x="0" y="0" font-size="8.6" text-anchor="end" fill="#2e2e2e">EBV+</text>
<text transform="translate(465.80 443.30) rotate(-45)" x="0" y="0" font-size="8.6" text-anchor="end" fill="#2e2e2e">-CD27 blo.</text>
<text transform="translate(488.30 444.80) rotate(-45)" x="0" y="0" font-size="8.6" text-anchor="end" fill="#2e2e2e">EBV+</text>
<text transform="translate(504.20 444.20) rotate(-45)" x="0" y="0" font-size="8.6" text-anchor="end" fill="#2e2e2e">IsoCtrl. blo.</text>
<line x1="50.90" y1="536.00" x2="50.90" y2="620.50" stroke="#2a2a2a" stroke-width="1.3" />
<line x1="48.50" y1="538.00" x2="50.90" y2="538.00" stroke="#2a2a2a" stroke-width="1.0" />
<text x="45.50" y="541.00" font-size="8.5" text-anchor="end" font-weight="normal" fill="#2e2e2e" >40</text>
<line x1="48.50" y1="558.62" x2="50.90" y2="558.62" stroke="#2a2a2a" stroke-width="1.0" />
<text x="45.50" y="561.62" font-size="8.5" text-anchor="end" font-weight="normal" fill="#2e2e2e" >30</text>
<line x1="48.50" y1="579.25" x2="50.90" y2="579.25" stroke="#2a2a2a" stroke-width="1.0" />
<text x="45.50" y="582.25" font-size="8.5" text-anchor="end" font-weight="normal" fill="#2e2e2e" >20</text>
<line x1="48.50" y1="599.88" x2="50.90" y2="599.88" stroke="#2a2a2a" stroke-width="1.0" />
<text x="45.50" y="602.88" font-size="8.5" text-anchor="end" font-weight="normal" fill="#2e2e2e" >10</text>
<line x1="48.50" y1="620.50" x2="50.90" y2="620.50" stroke="#2a2a2a" stroke-width="1.0" />
<text x="45.50" y="623.50" font-size="8.5" text-anchor="end" font-weight="normal" fill="#2e2e2e" >0</text>
<line x1="50.30" y1="620.50" x2="149.50" y2="620.50" stroke="#2a2a2a" stroke-width="1.3" />
<line x1="70.70" y1="620.50" x2="70.70" y2="623.30" stroke="#2a2a2a" stroke-width="1.0" />
<text x="70.70" y="634.30" font-size="8.2" text-anchor="middle" font-weight="normal" fill="#2e2e2e" >1:10</text>
<line x1="100.00" y1="620.50" x2="100.00" y2="623.30" stroke="#2a2a2a" stroke-width="1.0" />
<text x="100.00" y="634.30" font-size="8.2" text-anchor="middle" font-weight="normal" fill="#2e2e2e" >1:1</text>
<line x1="129.50" y1="620.50" x2="129.50" y2="623.30" stroke="#2a2a2a" stroke-width="1.0" />
<text x="129.50" y="634.30" font-size="8.2" text-anchor="middle" font-weight="normal" fill="#2e2e2e" >10:1</text>
<line x1="52.10" y1="591.80" x2="150.00" y2="591.80" stroke="#4a4a4a" stroke-width="1.6" stroke-dasharray="3.1 2.1"/>
<text x="150.70" y="603.20" font-size="7.9" text-anchor="end" font-weight="normal" fill="#2e2e2e" >Target cell only</text>
<line x1="70.70" y1="588.10" x2="70.70" y2="595.20" stroke="#66a93d" stroke-width="1.0" />
<line x1="69.00" y1="588.10" x2="72.40" y2="588.10" stroke="#66a93d" stroke-width="1.0" />
<line x1="69.00" y1="595.20" x2="72.40" y2="595.20" stroke="#66a93d" stroke-width="1.0" />
<line x1="100.00" y1="587.50" x2="100.00" y2="593.30" stroke="#66a93d" stroke-width="1.0" />
<line x1="98.30" y1="587.50" x2="101.70" y2="587.50" stroke="#66a93d" stroke-width="1.0" />
<line x1="98.30" y1="593.30" x2="101.70" y2="593.30" stroke="#66a93d" stroke-width="1.0" />
<line x1="129.50" y1="577.00" x2="129.50" y2="588.00" stroke="#66a93d" stroke-width="1.0" />
<line x1="127.80" y1="577.00" x2="131.20" y2="577.00" stroke="#66a93d" stroke-width="1.0" />
<line x1="127.80" y1="588.00" x2="131.20" y2="588.00" stroke="#66a93d" stroke-width="1.0" />
<path d="M70.70 588.10 L100.00 587.50 L129.50 577.30" fill="none" stroke="#66a93d" stroke-width="1.35"/>
<circle cx="70.70" cy="588.10" r="1.9" fill="#66a93d" stroke="none" stroke-width="0"/>
<circle cx="100.00" cy="587.50" r="1.9" fill="#66a93d" stroke="none" stroke-width="0"/>
<circle cx="129.50" cy="577.30" r="1.9" fill="#66a93d" stroke="none" stroke-width="0"/>
<line x1="70.70" y1="580.50" x2="70.70" y2="587.00" stroke="#2b4884" stroke-width="1.0" />
<line x1="69.00" y1="580.50" x2="72.40" y2="580.50" stroke="#2b4884" stroke-width="1.0" />
<line x1="69.00" y1="587.00" x2="72.40" y2="587.00" stroke="#2b4884" stroke-width="1.0" />
<line x1="100.00" y1="579.00" x2="100.00" y2="585.00" stroke="#2b4884" stroke-width="1.0" />
<line x1="98.30" y1="579.00" x2="101.70" y2="579.00" stroke="#2b4884" stroke-width="1.0" />
<line x1="98.30" y1="585.00" x2="101.70" y2="585.00" stroke="#2b4884" stroke-width="1.0" />
<line x1="129.50" y1="556.00" x2="129.50" y2="576.20" stroke="#2b4884" stroke-width="1.0" />
<line x1="127.80" y1="556.00" x2="131.20" y2="556.00" stroke="#2b4884" stroke-width="1.0" />
<line x1="127.80" y1="576.20" x2="131.20" y2="576.20" stroke="#2b4884" stroke-width="1.0" />
<path d="M70.70 585.00 L100.00 580.80 L129.50 559.30" fill="none" stroke="#2b4884" stroke-width="1.35"/>
<rect x="68.85" y="583.15" width="3.7" height="3.7" fill="#2b4884"/>
<rect x="98.15" y="578.95" width="3.7" height="3.7" fill="#2b4884"/>
<rect x="127.65" y="557.45" width="3.7" height="3.7" fill="#2b4884"/>
<line x1="70.70" y1="581.20" x2="70.70" y2="588.00" stroke="#8a83c4" stroke-width="1.0" />
<line x1="69.00" y1="581.20" x2="72.40" y2="581.20" stroke="#8a83c4" stroke-width="1.0" />
<line x1="69.00" y1="588.00" x2="72.40" y2="588.00" stroke="#8a83c4" stroke-width="1.0" />
<line x1="100.00" y1="576.00" x2="100.00" y2="579.00" stroke="#8a83c4" stroke-width="1.0" />
<line x1="98.30" y1="576.00" x2="101.70" y2="576.00" stroke="#8a83c4" stroke-width="1.0" />
<line x1="98.30" y1="579.00" x2="101.70" y2="579.00" stroke="#8a83c4" stroke-width="1.0" />
<line x1="129.50" y1="546.10" x2="129.50" y2="566.00" stroke="#8a83c4" stroke-width="1.0" />
<line x1="127.80" y1="546.10" x2="131.20" y2="546.10" stroke="#8a83c4" stroke-width="1.0" />
<line x1="127.80" y1="566.00" x2="131.20" y2="566.00" stroke="#8a83c4" stroke-width="1.0" />
<path d="M70.70 585.80 L100.00 577.30 L129.50 549.40" fill="none" stroke="#8a83c4" stroke-width="1.35"/>
<path d="M70.70 583.57 L72.85 587.73 L68.55 587.73 Z" fill="#8a83c4"/>
<path d="M100.00 575.07 L102.15 579.23 L97.85 579.23 Z" fill="#8a83c4"/>
<path d="M129.50 547.17 L131.65 551.33 L127.35 551.33 Z" fill="#8a83c4"/>
<line x1="137.50" y1="548.80" x2="137.50" y2="578.00" stroke="#222" stroke-width="1.2" />
<text x="141.20" y="568.20" font-size="9.4" text-anchor="middle" fill="#1e1e1e" stroke="#1e1e1e" stroke-width="0.25">*</text>
<line x1="187.10" y1="536.00" x2="187.10" y2="620.50" stroke="#2a2a2a" stroke-width="1.3" />
<line x1="184.70" y1="538.00" x2="187.10" y2="538.00" stroke="#2a2a2a" stroke-width="1.0" />
<text x="181.70" y="541.00" font-size="8.5" text-anchor="end" font-weight="normal" fill="#2e2e2e" >40</text>
<line x1="184.70" y1="558.62" x2="187.10" y2="558.62" stroke="#2a2a2a" stroke-width="1.0" />
<text x="181.70" y="561.62" font-size="8.5" text-anchor="end" font-weight="normal" fill="#2e2e2e" >30</text>
<line x1="184.70" y1="579.25" x2="187.10" y2="579.25" stroke="#2a2a2a" stroke-width="1.0" />
<text x="181.70" y="582.25" font-size="8.5" text-anchor="end" font-weight="normal" fill="#2e2e2e" >20</text>
<line x1="184.70" y1="599.88" x2="187.10" y2="599.88" stroke="#2a2a2a" stroke-width="1.0" />
<text x="181.70" y="602.88" font-size="8.5" text-anchor="end" font-weight="normal" fill="#2e2e2e" >10</text>
<line x1="184.70" y1="620.50" x2="187.10" y2="620.50" stroke="#2a2a2a" stroke-width="1.0" />
<text x="181.70" y="623.50" font-size="8.5" text-anchor="end" font-weight="normal" fill="#2e2e2e" >0</text>
<line x1="186.50" y1="620.50" x2="285.20" y2="620.50" stroke="#2a2a2a" stroke-width="1.3" />
<line x1="206.20" y1="620.50" x2="206.20" y2="623.30" stroke="#2a2a2a" stroke-width="1.0" />
<text x="206.20" y="634.30" font-size="8.2" text-anchor="middle" font-weight="normal" fill="#2e2e2e" >1:10</text>
<line x1="235.40" y1="620.50" x2="235.40" y2="623.30" stroke="#2a2a2a" stroke-width="1.0" />
<text x="235.40" y="634.30" font-size="8.2" text-anchor="middle" font-weight="normal" fill="#2e2e2e" >1:1</text>
<line x1="265.20" y1="620.50" x2="265.20" y2="623.30" stroke="#2a2a2a" stroke-width="1.0" />
<text x="265.20" y="634.30" font-size="8.2" text-anchor="middle" font-weight="normal" fill="#2e2e2e" >10:1</text>
<line x1="188.30" y1="591.80" x2="285.70" y2="591.80" stroke="#4a4a4a" stroke-width="1.6" stroke-dasharray="3.1 2.1"/>
<text x="286.40" y="603.20" font-size="7.9" text-anchor="end" font-weight="normal" fill="#2e2e2e" >Target cell only</text>
<line x1="206.20" y1="586.00" x2="206.20" y2="591.50" stroke="#66a93d" stroke-width="1.0" />
<line x1="204.50" y1="586.00" x2="207.90" y2="586.00" stroke="#66a93d" stroke-width="1.0" />
<line x1="204.50" y1="591.50" x2="207.90" y2="591.50" stroke="#66a93d" stroke-width="1.0" />
<line x1="235.40" y1="575.40" x2="235.40" y2="588.00" stroke="#66a93d" stroke-width="1.0" />
<line x1="233.70" y1="575.40" x2="237.10" y2="575.40" stroke="#66a93d" stroke-width="1.0" />
<line x1="233.70" y1="588.00" x2="237.10" y2="588.00" stroke="#66a93d" stroke-width="1.0" />
<line x1="265.20" y1="562.50" x2="265.20" y2="586.20" stroke="#66a93d" stroke-width="1.0" />
<line x1="263.50" y1="562.50" x2="266.90" y2="562.50" stroke="#66a93d" stroke-width="1.0" />
<line x1="263.50" y1="586.20" x2="266.90" y2="586.20" stroke="#66a93d" stroke-width="1.0" />
<path d="M206.20 589.80 L235.40 585.20 L265.20 568.60" fill="none" stroke="#66a93d" stroke-width="1.35"/>
<circle cx="206.20" cy="589.80" r="1.9" fill="#66a93d" stroke="none" stroke-width="0"/>
<circle cx="235.40" cy="585.20" r="1.9" fill="#66a93d" stroke="none" stroke-width="0"/>
<circle cx="265.20" cy="568.60" r="1.9" fill="#66a93d" stroke="none" stroke-width="0"/>
<line x1="206.20" y1="583.00" x2="206.20" y2="589.00" stroke="#2b4884" stroke-width="1.0" />
<line x1="204.50" y1="583.00" x2="207.90" y2="583.00" stroke="#2b4884" stroke-width="1.0" />
<line x1="204.50" y1="589.00" x2="207.90" y2="589.00" stroke="#2b4884" stroke-width="1.0" />
<line x1="235.40" y1="582.00" x2="235.40" y2="588.50" stroke="#2b4884" stroke-width="1.0" />
<line x1="233.70" y1="582.00" x2="237.10" y2="582.00" stroke="#2b4884" stroke-width="1.0" />
<line x1="233.70" y1="588.50" x2="237.10" y2="588.50" stroke="#2b4884" stroke-width="1.0" />
<line x1="265.20" y1="547.70" x2="265.20" y2="562.00" stroke="#2b4884" stroke-width="1.0" />
<line x1="263.50" y1="547.70" x2="266.90" y2="547.70" stroke="#2b4884" stroke-width="1.0" />
<line x1="263.50" y1="562.00" x2="266.90" y2="562.00" stroke="#2b4884" stroke-width="1.0" />
<path d="M206.20 586.20 L235.40 585.20 L265.20 559.00" fill="none" stroke="#2b4884" stroke-width="1.35"/>
<rect x="204.35" y="584.35" width="3.7" height="3.7" fill="#2b4884"/>
<rect x="233.55" y="583.35" width="3.7" height="3.7" fill="#2b4884"/>
<rect x="263.35" y="557.15" width="3.7" height="3.7" fill="#2b4884"/>
<line x1="206.20" y1="576.00" x2="206.20" y2="593.00" stroke="#8a83c4" stroke-width="1.0" />
<line x1="204.50" y1="576.00" x2="207.90" y2="576.00" stroke="#8a83c4" stroke-width="1.0" />
<line x1="204.50" y1="593.00" x2="207.90" y2="593.00" stroke="#8a83c4" stroke-width="1.0" />
<line x1="235.40" y1="579.00" x2="235.40" y2="583.00" stroke="#8a83c4" stroke-width="1.0" />
<line x1="233.70" y1="579.00" x2="237.10" y2="579.00" stroke="#8a83c4" stroke-width="1.0" />
<line x1="233.70" y1="583.00" x2="237.10" y2="583.00" stroke="#8a83c4" stroke-width="1.0" />
<line x1="265.20" y1="547.70" x2="265.20" y2="556.00" stroke="#8a83c4" stroke-width="1.0" />
<line x1="263.50" y1="547.70" x2="266.90" y2="547.70" stroke="#8a83c4" stroke-width="1.0" />
<line x1="263.50" y1="556.00" x2="266.90" y2="556.00" stroke="#8a83c4" stroke-width="1.0" />
<path d="M206.20 580.00 L235.40 581.50 L265.20 552.30" fill="none" stroke="#8a83c4" stroke-width="1.35"/>
<path d="M206.20 577.77 L208.35 581.93 L204.05 581.93 Z" fill="#8a83c4"/>
<path d="M235.40 579.27 L237.55 583.43 L233.25 583.43 Z" fill="#8a83c4"/>
<path d="M265.20 550.07 L267.35 554.23 L263.05 554.23 Z" fill="#8a83c4"/>
<line x1="199.10" y1="507.70" x2="211.80" y2="507.70" stroke="#66a93d" stroke-width="1.35" />
<circle cx="205.45" cy="507.70" r="2.0" fill="#66a93d" stroke="none" stroke-width="0"/>
<line x1="199.10" y1="519.90" x2="211.80" y2="519.90" stroke="#2b4884" stroke-width="1.35" />
<rect x="203.50" y="517.95" width="3.9" height="3.9" fill="#2b4884"/>
<line x1="199.10" y1="530.70" x2="211.80" y2="530.70" stroke="#8a83c4" stroke-width="1.35" />
<path d="M205.45 528.42 L207.65 532.68 L203.25 532.68 Z" fill="#8a83c4"/>
<text x="219.70" y="510.30" font-size="7.8" text-anchor="start" font-weight="normal" fill="#2e2e2e" >-CD27 blo.</text>
<text x="214.80" y="522.50" font-size="7.8" text-anchor="start" font-weight="normal" fill="#2e2e2e" >IsoCtrl. blo.</text>
<text x="214.80" y="533.30" font-size="7.8" text-anchor="start" font-weight="normal" fill="#2e2e2e" >untreated T cells</text>
<line x1="355.60" y1="552.50" x2="355.60" y2="620.70" stroke="#2a2a2a" stroke-width="1.3" />
<line x1="353.20" y1="554.70" x2="355.60" y2="554.70" stroke="#2a2a2a" stroke-width="1.0" />
<text x="350.00" y="557.70" font-size="8.5" text-anchor="end" font-weight="normal" fill="#2e2e2e" >2</text>
<line x1="353.20" y1="571.20" x2="355.60" y2="571.20" stroke="#2a2a2a" stroke-width="1.0" />
<text x="350.00" y="574.20" font-size="8.5" text-anchor="end" font-weight="normal" fill="#2e2e2e" >1.5</text>
<line x1="353.20" y1="587.70" x2="355.60" y2="587.70" stroke="#2a2a2a" stroke-width="1.0" />
<text x="350.00" y="590.70" font-size="8.5" text-anchor="end" font-weight="normal" fill="#2e2e2e" >1</text>
<line x1="353.20" y1="604.20" x2="355.60" y2="604.20" stroke="#2a2a2a" stroke-width="1.0" />
<text x="350.00" y="607.20" font-size="8.5" text-anchor="end" font-weight="normal" fill="#2e2e2e" >0.5</text>
<line x1="353.20" y1="620.70" x2="355.60" y2="620.70" stroke="#2a2a2a" stroke-width="1.0" />
<text x="350.00" y="623.70" font-size="8.5" text-anchor="end" font-weight="normal" fill="#2e2e2e" >0</text>
<line x1="355.00" y1="620.70" x2="406.70" y2="620.70" stroke="#2a2a2a" stroke-width="1.3" />
<line x1="365.85" y1="601.80" x2="365.85" y2="604.90" stroke="#222" stroke-width="1.1" />
<line x1="363.95" y1="601.80" x2="367.75" y2="601.80" stroke="#222" stroke-width="1.1" />
<rect x="361.25" y="605.20" width="9.2" height="15.50" fill="#66a93d" stroke="#5a9a33" stroke-width="0.8"/>
<line x1="365.85" y1="620.70" x2="365.85" y2="623.50" stroke="#2a2a2a" stroke-width="1.0" />
<line x1="381.75" y1="580.30" x2="381.75" y2="584.80" stroke="#222" stroke-width="1.1" />
<line x1="379.85" y1="580.30" x2="383.65" y2="580.30" stroke="#222" stroke-width="1.1" />
<rect x="377.15" y="585.10" width="9.2" height="35.60" fill="#2b4884" stroke="#1f3a6e" stroke-width="0.8"/>
<line x1="381.75" y1="620.70" x2="381.75" y2="623.50" stroke="#2a2a2a" stroke-width="1.0" />
<line x1="397.25" y1="568.30" x2="397.25" y2="572.80" stroke="#222" stroke-width="1.1" />
<line x1="395.35" y1="568.30" x2="399.15" y2="568.30" stroke="#222" stroke-width="1.1" />
<rect x="392.65" y="573.10" width="9.2" height="47.60" fill="#8a83c4" stroke="#7e76b8" stroke-width="0.8"/>
<line x1="397.25" y1="620.70" x2="397.25" y2="623.50" stroke="#2a2a2a" stroke-width="1.0" />
<line x1="362.30" y1="561.90" x2="396.00" y2="561.90" stroke="#3a3a3a" stroke-width="1.0" />
<text x="378.80" y="562.60" font-size="9.4" text-anchor="middle" fill="#1e1e1e" stroke="#1e1e1e" stroke-width="0.25">*</text>
<line x1="461.40" y1="553.60" x2="461.40" y2="620.70" stroke="#2a2a2a" stroke-width="1.3" />
<line x1="459.00" y1="555.80" x2="461.40" y2="555.80" stroke="#2a2a2a" stroke-width="1.0" />
<text x="455.80" y="558.80" font-size="8.5" text-anchor="end" font-weight="normal" fill="#2e2e2e" >2</text>
<line x1="459.00" y1="572.02" x2="461.40" y2="572.02" stroke="#2a2a2a" stroke-width="1.0" />
<text x="455.80" y="575.02" font-size="8.5" text-anchor="end" font-weight="normal" fill="#2e2e2e" >1.5</text>
<line x1="459.00" y1="588.25" x2="461.40" y2="588.25" stroke="#2a2a2a" stroke-width="1.0" />
<text x="455.80" y="591.25" font-size="8.5" text-anchor="end" font-weight="normal" fill="#2e2e2e" >1</text>
<line x1="459.00" y1="604.48" x2="461.40" y2="604.48" stroke="#2a2a2a" stroke-width="1.0" />
<text x="455.80" y="607.48" font-size="8.5" text-anchor="end" font-weight="normal" fill="#2e2e2e" >0.5</text>
<line x1="459.00" y1="620.70" x2="461.40" y2="620.70" stroke="#2a2a2a" stroke-width="1.0" />
<text x="455.80" y="623.70" font-size="8.5" text-anchor="end" font-weight="normal" fill="#2e2e2e" >0</text>
<line x1="460.80" y1="620.70" x2="512.80" y2="620.70" stroke="#2a2a2a" stroke-width="1.3" />
<line x1="471.55" y1="588.40" x2="471.55" y2="595.00" stroke="#222" stroke-width="1.1" />
<line x1="469.65" y1="588.40" x2="473.45" y2="588.40" stroke="#222" stroke-width="1.1" />
<rect x="466.95" y="595.30" width="9.2" height="25.40" fill="#66a93d" stroke="#5a9a33" stroke-width="0.8"/>
<line x1="471.55" y1="620.70" x2="471.55" y2="623.50" stroke="#2a2a2a" stroke-width="1.0" />
<line x1="486.75" y1="571.70" x2="486.75" y2="583.90" stroke="#222" stroke-width="1.1" />
<line x1="484.85" y1="571.70" x2="488.65" y2="571.70" stroke="#222" stroke-width="1.1" />
<rect x="482.15" y="584.20" width="9.2" height="36.50" fill="#2b4884" stroke="#1f3a6e" stroke-width="0.8"/>
<line x1="486.75" y1="620.70" x2="486.75" y2="623.50" stroke="#2a2a2a" stroke-width="1.0" />
<line x1="501.95" y1="573.20" x2="501.95" y2="577.30" stroke="#222" stroke-width="1.1" />
<line x1="500.05" y1="573.20" x2="503.85" y2="573.20" stroke="#222" stroke-width="1.1" />
<rect x="497.35" y="577.60" width="9.2" height="43.10" fill="#8a83c4" stroke="#7e76b8" stroke-width="0.8"/>
<line x1="501.95" y1="620.70" x2="501.95" y2="623.50" stroke="#2a2a2a" stroke-width="1.0" />
<text transform="translate(368.45 627.60) rotate(-45)" x="0" y="0" font-size="8.6" text-anchor="end" fill="#2e2e2e">-CD27 blo.</text>
<text transform="translate(384.95 628.80) rotate(-45)" x="0" y="0" font-size="8.6" text-anchor="end" fill="#2e2e2e">IsoCtrl. blo.</text>
<text transform="translate(401.65 631.60) rotate(-45)" x="0" y="0" font-size="8.6" text-anchor="end" fill="#2e2e2e">untreated</text>
<text transform="translate(403.05 643.20) rotate(-45)" x="0" y="0" font-size="8.6" text-anchor="end" fill="#2e2e2e">T cells</text>
<text transform="translate(474.15 627.60) rotate(-45)" x="0" y="0" font-size="8.6" text-anchor="end" fill="#2e2e2e">-CD27 blo.</text>
<text transform="translate(489.95 628.80) rotate(-45)" x="0" y="0" font-size="8.6" text-anchor="end" fill="#2e2e2e">IsoCtrl. blo.</text>
<text transform="translate(506.35 631.60) rotate(-45)" x="0" y="0" font-size="8.6" text-anchor="end" fill="#2e2e2e">untreated</text>
<text transform="translate(507.75 643.20) rotate(-45)" x="0" y="0" font-size="8.6" text-anchor="end" fill="#2e2e2e">T cells</text>
</svg></body></html>
